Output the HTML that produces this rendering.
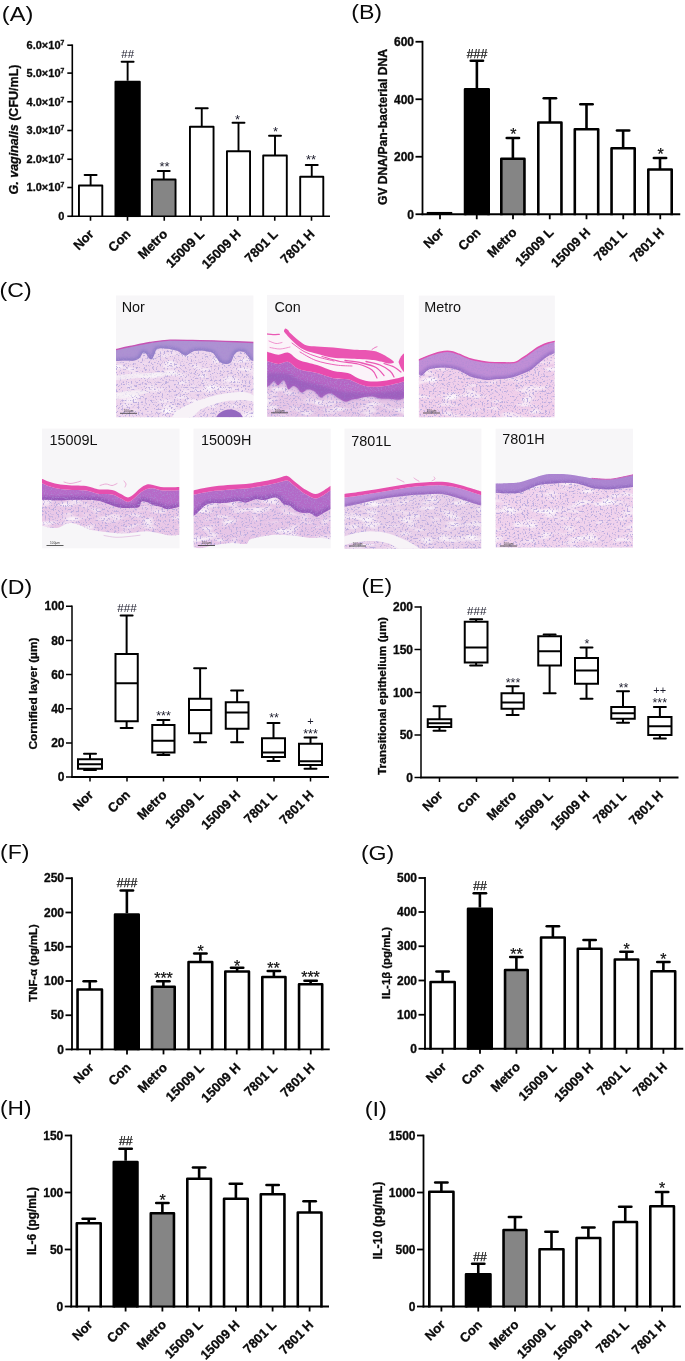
<!DOCTYPE html>
<html lang="en"><head><meta charset="utf-8"><title>Figure</title>
<style>
html,body{margin:0;padding:0;background:#fff}
svg{display:block}
text{font-family:"Liberation Sans",Arial,sans-serif}
</style></head><body>
<svg width="685" height="1361" viewBox="0 0 685 1361">
<rect x="0" y="0" width="685" height="1361" fill="#fff"/>
<text x="1.8" y="20.7" font-size="20.5" font-weight="normal" text-anchor="start" fill="#0a0a0a" textLength="31.5" lengthAdjust="spacingAndGlyphs">(A)</text>
<text x="351.2" y="18.9" font-size="20.5" font-weight="normal" text-anchor="start" fill="#0a0a0a" textLength="30.9" lengthAdjust="spacingAndGlyphs">(B)</text>
<text x="-0.4" y="296.8" font-size="20.5" font-weight="normal" text-anchor="start" fill="#0a0a0a" textLength="32" lengthAdjust="spacingAndGlyphs">(C)</text>
<text x="0" y="593.7" font-size="20.5" font-weight="normal" text-anchor="start" fill="#0a0a0a" textLength="32.1" lengthAdjust="spacingAndGlyphs">(D)</text>
<text x="361.4" y="593.3" font-size="20.5" font-weight="normal" text-anchor="start" fill="#0a0a0a" textLength="30.7" lengthAdjust="spacingAndGlyphs">(E)</text>
<text x="0" y="859.4" font-size="20.5" font-weight="normal" text-anchor="start" fill="#0a0a0a" textLength="29.4" lengthAdjust="spacingAndGlyphs">(F)</text>
<text x="360.9" y="859.6" font-size="20.5" font-weight="normal" text-anchor="start" fill="#0a0a0a" textLength="33.4" lengthAdjust="spacingAndGlyphs">(G)</text>
<text x="0" y="1114.9" font-size="20.5" font-weight="normal" text-anchor="start" fill="#0a0a0a" textLength="31.5" lengthAdjust="spacingAndGlyphs">(H)</text>
<text x="364.7" y="1116.3" font-size="20.5" font-weight="normal" text-anchor="start" fill="#0a0a0a" textLength="22.3" lengthAdjust="spacingAndGlyphs">(I)</text>
<line x1="90.62" y1="175" x2="90.62" y2="185.5" stroke="#000" stroke-width="1.9" stroke-linecap="butt"/>
<line x1="84.62" y1="175" x2="96.62" y2="175" stroke="#000" stroke-width="1.9" stroke-linecap="round"/>
<rect x="78.95" y="185.5" width="23.35" height="31.55" fill="#fff"/>
<path d="M78.95,217.05V185.5H102.3V217.05" fill="none" stroke="#000" stroke-width="1.9" stroke-linejoin="round"/>
<line x1="127.62" y1="61.75" x2="127.62" y2="80.75" stroke="#000" stroke-width="1.9" stroke-linecap="butt"/>
<line x1="121.62" y1="61.75" x2="133.62" y2="61.75" stroke="#000" stroke-width="1.9" stroke-linecap="round"/>
<rect x="115.45" y="81.7" width="24.35" height="135.35" fill="#000"/>
<path d="M115.45,217.05V81.7H139.8V217.05" fill="none" stroke="#000" stroke-width="1.9" stroke-linejoin="round"/>
<line x1="163.75" y1="171" x2="163.75" y2="179.5" stroke="#000" stroke-width="1.9" stroke-linecap="butt"/>
<line x1="157.75" y1="171" x2="169.75" y2="171" stroke="#000" stroke-width="1.9" stroke-linecap="round"/>
<rect x="151.95" y="179.5" width="23.6" height="37.55" fill="#858585"/>
<path d="M151.95,217.05V179.5H175.55V217.05" fill="none" stroke="#000" stroke-width="1.9" stroke-linejoin="round"/>
<line x1="201.75" y1="108.25" x2="201.75" y2="126.75" stroke="#000" stroke-width="1.9" stroke-linecap="butt"/>
<line x1="195.75" y1="108.25" x2="207.75" y2="108.25" stroke="#000" stroke-width="1.9" stroke-linecap="round"/>
<rect x="189.95" y="126.75" width="23.6" height="90.3" fill="#fff"/>
<path d="M189.95,217.05V126.75H213.55V217.05" fill="none" stroke="#000" stroke-width="1.9" stroke-linejoin="round"/>
<line x1="238.5" y1="122.75" x2="238.5" y2="151.25" stroke="#000" stroke-width="1.9" stroke-linecap="butt"/>
<line x1="232.5" y1="122.75" x2="244.5" y2="122.75" stroke="#000" stroke-width="1.9" stroke-linecap="round"/>
<rect x="226.95" y="151.25" width="23.1" height="65.8" fill="#fff"/>
<path d="M226.95,217.05V151.25H250.05V217.05" fill="none" stroke="#000" stroke-width="1.9" stroke-linejoin="round"/>
<line x1="275" y1="135.75" x2="275" y2="155.5" stroke="#000" stroke-width="1.9" stroke-linecap="butt"/>
<line x1="269" y1="135.75" x2="281" y2="135.75" stroke="#000" stroke-width="1.9" stroke-linecap="round"/>
<rect x="263.2" y="155.5" width="23.6" height="61.55" fill="#fff"/>
<path d="M263.2,217.05V155.5H286.8V217.05" fill="none" stroke="#000" stroke-width="1.9" stroke-linejoin="round"/>
<line x1="311.75" y1="165" x2="311.75" y2="176.75" stroke="#000" stroke-width="1.9" stroke-linecap="butt"/>
<line x1="305.75" y1="165" x2="317.75" y2="165" stroke="#000" stroke-width="1.9" stroke-linecap="round"/>
<rect x="300.2" y="176.75" width="23.1" height="40.3" fill="#fff"/>
<path d="M300.2,217.05V176.75H323.3V217.05" fill="none" stroke="#000" stroke-width="1.9" stroke-linejoin="round"/>
<line x1="72.3" y1="44.4" x2="72.3" y2="217.05" stroke="#000" stroke-width="1.6" stroke-linecap="butt"/>
<line x1="71.5" y1="216.25" x2="330" y2="216.25" stroke="#000" stroke-width="1.6" stroke-linecap="butt"/>
<line x1="67.3" y1="216.25" x2="72.3" y2="216.25" stroke="#000" stroke-width="1.6" stroke-linecap="butt"/>
<text x="64.3" y="220.1" font-size="11" font-weight="bold" text-anchor="end" fill="#0a0a0a"  stroke="#0a0a0a" stroke-width="0.3">0</text>
<line x1="67.3" y1="187.5" x2="72.3" y2="187.5" stroke="#000" stroke-width="1.6" stroke-linecap="butt"/>
<text x="64.3" y="191.35" font-size="11" font-weight="bold" text-anchor="end" fill="#0a0a0a"  stroke="#0a0a0a" stroke-width="0.3">1.0×10<tspan dy="-3.96" font-size="6.82">7</tspan></text>
<line x1="67.3" y1="159.25" x2="72.3" y2="159.25" stroke="#000" stroke-width="1.6" stroke-linecap="butt"/>
<text x="64.3" y="163.1" font-size="11" font-weight="bold" text-anchor="end" fill="#0a0a0a"  stroke="#0a0a0a" stroke-width="0.3">2.0×10<tspan dy="-3.96" font-size="6.82">7</tspan></text>
<line x1="67.3" y1="130.5" x2="72.3" y2="130.5" stroke="#000" stroke-width="1.6" stroke-linecap="butt"/>
<text x="64.3" y="134.35" font-size="11" font-weight="bold" text-anchor="end" fill="#0a0a0a"  stroke="#0a0a0a" stroke-width="0.3">3.0×10<tspan dy="-3.96" font-size="6.82">7</tspan></text>
<line x1="67.3" y1="101.75" x2="72.3" y2="101.75" stroke="#000" stroke-width="1.6" stroke-linecap="butt"/>
<text x="64.3" y="105.6" font-size="11" font-weight="bold" text-anchor="end" fill="#0a0a0a"  stroke="#0a0a0a" stroke-width="0.3">4.0×10<tspan dy="-3.96" font-size="6.82">7</tspan></text>
<line x1="67.3" y1="73.1" x2="72.3" y2="73.1" stroke="#000" stroke-width="1.6" stroke-linecap="butt"/>
<text x="64.3" y="76.95" font-size="11" font-weight="bold" text-anchor="end" fill="#0a0a0a"  stroke="#0a0a0a" stroke-width="0.3">5.0×10<tspan dy="-3.96" font-size="6.82">7</tspan></text>
<line x1="67.3" y1="45.2" x2="72.3" y2="45.2" stroke="#000" stroke-width="1.6" stroke-linecap="butt"/>
<text x="64.3" y="49.05" font-size="11" font-weight="bold" text-anchor="end" fill="#0a0a0a"  stroke="#0a0a0a" stroke-width="0.3">6.0×10<tspan dy="-3.96" font-size="6.82">7</tspan></text>
<line x1="90.5" y1="216.25" x2="90.5" y2="220.75" stroke="#000" stroke-width="1.6" stroke-linecap="butt"/>
<text x="94.5" y="234.85" font-size="13" font-weight="bold" text-anchor="end" fill="#0a0a0a" transform="rotate(-45 94.5 234.85)" stroke="#0a0a0a" stroke-width="0.3">Nor</text>
<line x1="127.5" y1="216.25" x2="127.5" y2="220.75" stroke="#000" stroke-width="1.6" stroke-linecap="butt"/>
<text x="131.5" y="234.85" font-size="13" font-weight="bold" text-anchor="end" fill="#0a0a0a" transform="rotate(-45 131.5 234.85)" stroke="#0a0a0a" stroke-width="0.3">Con</text>
<line x1="164.25" y1="216.25" x2="164.25" y2="220.75" stroke="#000" stroke-width="1.6" stroke-linecap="butt"/>
<text x="168.25" y="234.85" font-size="13" font-weight="bold" text-anchor="end" fill="#0a0a0a" transform="rotate(-45 168.25 234.85)" stroke="#0a0a0a" stroke-width="0.3">Metro</text>
<line x1="201" y1="216.25" x2="201" y2="220.75" stroke="#000" stroke-width="1.6" stroke-linecap="butt"/>
<text x="205" y="234.85" font-size="13" font-weight="bold" text-anchor="end" fill="#0a0a0a" transform="rotate(-45 205 234.85)" stroke="#0a0a0a" stroke-width="0.3">15009 L</text>
<line x1="237.75" y1="216.25" x2="237.75" y2="220.75" stroke="#000" stroke-width="1.6" stroke-linecap="butt"/>
<text x="241.75" y="234.85" font-size="13" font-weight="bold" text-anchor="end" fill="#0a0a0a" transform="rotate(-45 241.75 234.85)" stroke="#0a0a0a" stroke-width="0.3">15009 H</text>
<line x1="274.75" y1="216.25" x2="274.75" y2="220.75" stroke="#000" stroke-width="1.6" stroke-linecap="butt"/>
<text x="278.75" y="234.85" font-size="13" font-weight="bold" text-anchor="end" fill="#0a0a0a" transform="rotate(-45 278.75 234.85)" stroke="#0a0a0a" stroke-width="0.3">7801 L</text>
<line x1="311.5" y1="216.25" x2="311.5" y2="220.75" stroke="#000" stroke-width="1.6" stroke-linecap="butt"/>
<text x="315.5" y="234.85" font-size="13" font-weight="bold" text-anchor="end" fill="#0a0a0a" transform="rotate(-45 315.5 234.85)" stroke="#0a0a0a" stroke-width="0.3">7801 H</text>
<text x="17.8" y="129.5" font-size="12.5" font-weight="bold" text-anchor="middle" fill="#0a0a0a" transform="rotate(-90 17.8 129.5)" textLength="130" lengthAdjust="spacingAndGlyphs" stroke="#0a0a0a" stroke-width="0.3"><tspan font-style="italic">G. vaginalis</tspan> (CFU/mL)</text>
<text x="127.75" y="57.97" font-size="11.5" font-weight="normal" text-anchor="middle" fill="#1b1b2b" >##</text>
<text x="164.5" y="171.26" font-size="13" font-weight="normal" text-anchor="middle" fill="#1b1b2b" >**</text>
<text x="237.5" y="123.51" font-size="13" font-weight="normal" text-anchor="middle" fill="#1b1b2b" >*</text>
<text x="275.5" y="135.51" font-size="13" font-weight="normal" text-anchor="middle" fill="#1b1b2b" >*</text>
<text x="311" y="163.76" font-size="13" font-weight="normal" text-anchor="middle" fill="#1b1b2b" >**</text>
<line x1="426.75" y1="213.1" x2="452.25" y2="213.1" stroke="#000" stroke-width="2.3" stroke-linecap="butt"/>
<line x1="476.88" y1="60.75" x2="476.88" y2="88" stroke="#000" stroke-width="2.6" stroke-linecap="butt"/>
<line x1="470.73" y1="60.75" x2="483.02" y2="60.75" stroke="#000" stroke-width="2.6" stroke-linecap="round"/>
<rect x="465.05" y="89.3" width="23.65" height="125.85" fill="#000"/>
<path d="M465.05,215.15V89.3H488.7V215.15" fill="none" stroke="#000" stroke-width="2.6" stroke-linejoin="round"/>
<line x1="512.88" y1="138" x2="512.88" y2="158.75" stroke="#000" stroke-width="2.6" stroke-linecap="butt"/>
<line x1="506.73" y1="138" x2="519.02" y2="138" stroke="#000" stroke-width="2.6" stroke-linecap="round"/>
<rect x="501.3" y="158.75" width="23.15" height="56.4" fill="#858585"/>
<path d="M501.3,215.15V158.75H524.45V215.15" fill="none" stroke="#000" stroke-width="2.6" stroke-linejoin="round"/>
<line x1="549.88" y1="98.25" x2="549.88" y2="122.5" stroke="#000" stroke-width="2.6" stroke-linecap="butt"/>
<line x1="543.73" y1="98.25" x2="556.02" y2="98.25" stroke="#000" stroke-width="2.6" stroke-linecap="round"/>
<rect x="538.3" y="122.5" width="23.15" height="92.65" fill="#fff"/>
<path d="M538.3,215.15V122.5H561.45V215.15" fill="none" stroke="#000" stroke-width="2.6" stroke-linejoin="round"/>
<line x1="586.5" y1="104.25" x2="586.5" y2="129.25" stroke="#000" stroke-width="2.6" stroke-linecap="butt"/>
<line x1="580.35" y1="104.25" x2="592.65" y2="104.25" stroke="#000" stroke-width="2.6" stroke-linecap="round"/>
<rect x="574.8" y="129.25" width="23.4" height="85.9" fill="#fff"/>
<path d="M574.8,215.15V129.25H598.2V215.15" fill="none" stroke="#000" stroke-width="2.6" stroke-linejoin="round"/>
<line x1="623.12" y1="130.5" x2="623.12" y2="148.25" stroke="#000" stroke-width="2.6" stroke-linecap="butt"/>
<line x1="616.98" y1="130.5" x2="629.27" y2="130.5" stroke="#000" stroke-width="2.6" stroke-linecap="round"/>
<rect x="611.55" y="148.25" width="23.15" height="66.9" fill="#fff"/>
<path d="M611.55,215.15V148.25H634.7V215.15" fill="none" stroke="#000" stroke-width="2.6" stroke-linejoin="round"/>
<line x1="660" y1="158" x2="660" y2="169.5" stroke="#000" stroke-width="2.6" stroke-linecap="butt"/>
<line x1="653.85" y1="158" x2="666.15" y2="158" stroke="#000" stroke-width="2.6" stroke-linecap="round"/>
<rect x="648.3" y="169.5" width="23.4" height="45.65" fill="#fff"/>
<path d="M648.3,215.15V169.5H671.7V215.15" fill="none" stroke="#000" stroke-width="2.6" stroke-linejoin="round"/>
<line x1="422.5" y1="40.85" x2="422.5" y2="215.15" stroke="#000" stroke-width="1.8" stroke-linecap="butt"/>
<line x1="421.6" y1="214.25" x2="680.25" y2="214.25" stroke="#000" stroke-width="1.8" stroke-linecap="butt"/>
<line x1="415.5" y1="214.25" x2="422.5" y2="214.25" stroke="#000" stroke-width="1.8" stroke-linecap="butt"/>
<text x="414" y="218.85" font-size="12" font-weight="bold" text-anchor="end" fill="#0a0a0a"  stroke="#0a0a0a" stroke-width="0.3">0</text>
<line x1="415.5" y1="156.75" x2="422.5" y2="156.75" stroke="#000" stroke-width="1.8" stroke-linecap="butt"/>
<text x="414" y="161.35" font-size="12" font-weight="bold" text-anchor="end" fill="#0a0a0a"  stroke="#0a0a0a" stroke-width="0.3">200</text>
<line x1="415.5" y1="99.25" x2="422.5" y2="99.25" stroke="#000" stroke-width="1.8" stroke-linecap="butt"/>
<text x="414" y="103.85" font-size="12" font-weight="bold" text-anchor="end" fill="#0a0a0a"  stroke="#0a0a0a" stroke-width="0.3">400</text>
<line x1="415.5" y1="41.75" x2="422.5" y2="41.75" stroke="#000" stroke-width="1.8" stroke-linecap="butt"/>
<text x="414" y="46.35" font-size="12" font-weight="bold" text-anchor="end" fill="#0a0a0a"  stroke="#0a0a0a" stroke-width="0.3">600</text>
<line x1="440" y1="214.25" x2="440" y2="219.25" stroke="#000" stroke-width="1.8" stroke-linecap="butt"/>
<text x="444.6" y="233.25" font-size="13" font-weight="bold" text-anchor="end" fill="#0a0a0a" transform="rotate(-45 444.6 233.25)" stroke="#0a0a0a" stroke-width="0.3">Nor</text>
<line x1="476.75" y1="214.25" x2="476.75" y2="219.25" stroke="#000" stroke-width="1.8" stroke-linecap="butt"/>
<text x="481.35" y="233.25" font-size="13" font-weight="bold" text-anchor="end" fill="#0a0a0a" transform="rotate(-45 481.35 233.25)" stroke="#0a0a0a" stroke-width="0.3">Con</text>
<line x1="513" y1="214.25" x2="513" y2="219.25" stroke="#000" stroke-width="1.8" stroke-linecap="butt"/>
<text x="517.6" y="233.25" font-size="13" font-weight="bold" text-anchor="end" fill="#0a0a0a" transform="rotate(-45 517.6 233.25)" stroke="#0a0a0a" stroke-width="0.3">Metro</text>
<line x1="549.75" y1="214.25" x2="549.75" y2="219.25" stroke="#000" stroke-width="1.8" stroke-linecap="butt"/>
<text x="554.35" y="233.25" font-size="13" font-weight="bold" text-anchor="end" fill="#0a0a0a" transform="rotate(-45 554.35 233.25)" stroke="#0a0a0a" stroke-width="0.3">15009 L</text>
<line x1="586.5" y1="214.25" x2="586.5" y2="219.25" stroke="#000" stroke-width="1.8" stroke-linecap="butt"/>
<text x="591.1" y="233.25" font-size="13" font-weight="bold" text-anchor="end" fill="#0a0a0a" transform="rotate(-45 591.1 233.25)" stroke="#0a0a0a" stroke-width="0.3">15009 H</text>
<line x1="623.25" y1="214.25" x2="623.25" y2="219.25" stroke="#000" stroke-width="1.8" stroke-linecap="butt"/>
<text x="627.85" y="233.25" font-size="13" font-weight="bold" text-anchor="end" fill="#0a0a0a" transform="rotate(-45 627.85 233.25)" stroke="#0a0a0a" stroke-width="0.3">7801 L</text>
<line x1="660.25" y1="214.25" x2="660.25" y2="219.25" stroke="#000" stroke-width="1.8" stroke-linecap="butt"/>
<text x="664.85" y="233.25" font-size="13" font-weight="bold" text-anchor="end" fill="#0a0a0a" transform="rotate(-45 664.85 233.25)" stroke="#0a0a0a" stroke-width="0.3">7801 H</text>
<text x="387" y="127" font-size="12" font-weight="bold" text-anchor="middle" fill="#0a0a0a" transform="rotate(-90 387 127)" textLength="156" lengthAdjust="spacingAndGlyphs" stroke="#0a0a0a" stroke-width="0.3">GV DNA/Pan-bacterial DNA</text>
<text x="477" y="57.66" font-size="13.5" font-weight="normal" text-anchor="middle" fill="#111" textLength="20.5" lengthAdjust="spacingAndGlyphs" stroke="#111" stroke-width="0.25">###</text>
<text x="513.3" y="139.82" font-size="16" font-weight="normal" text-anchor="middle" fill="#111"  stroke="#111" stroke-width="0.25">*</text>
<text x="660.5" y="159.82" font-size="16" font-weight="normal" text-anchor="middle" fill="#111"  stroke="#111" stroke-width="0.25">*</text>
<line x1="90" y1="753.75" x2="90" y2="759.25" stroke="#000" stroke-width="2.0" stroke-linecap="butt"/>
<line x1="90" y1="768.75" x2="90" y2="770" stroke="#000" stroke-width="2.0" stroke-linecap="butt"/>
<line x1="84" y1="753.75" x2="96" y2="753.75" stroke="#000" stroke-width="2.0" stroke-linecap="round"/>
<line x1="84" y1="770" x2="96" y2="770" stroke="#000" stroke-width="2.0" stroke-linecap="round"/>
<rect x="78" y="759.25" width="24" height="9.5" fill="#fff" stroke="#000" stroke-width="2.0"/>
<line x1="78" y1="764.25" x2="102" y2="764.25" stroke="#000" stroke-width="2.0" stroke-linecap="butt"/>
<line x1="126.62" y1="615.5" x2="126.62" y2="654" stroke="#000" stroke-width="2.0" stroke-linecap="butt"/>
<line x1="126.62" y1="721.25" x2="126.62" y2="728" stroke="#000" stroke-width="2.0" stroke-linecap="butt"/>
<line x1="120.62" y1="615.5" x2="132.62" y2="615.5" stroke="#000" stroke-width="2.0" stroke-linecap="round"/>
<line x1="120.62" y1="728" x2="132.62" y2="728" stroke="#000" stroke-width="2.0" stroke-linecap="round"/>
<rect x="115.5" y="654" width="22.25" height="67.25" fill="#fff" stroke="#000" stroke-width="2.0"/>
<line x1="115.5" y1="683.25" x2="137.75" y2="683.25" stroke="#000" stroke-width="2.0" stroke-linecap="butt"/>
<line x1="163.38" y1="720" x2="163.38" y2="725" stroke="#000" stroke-width="2.0" stroke-linecap="butt"/>
<line x1="163.38" y1="752.5" x2="163.38" y2="755" stroke="#000" stroke-width="2.0" stroke-linecap="butt"/>
<line x1="157.38" y1="720" x2="169.38" y2="720" stroke="#000" stroke-width="2.0" stroke-linecap="round"/>
<line x1="157.38" y1="755" x2="169.38" y2="755" stroke="#000" stroke-width="2.0" stroke-linecap="round"/>
<rect x="152.25" y="725" width="22.25" height="27.5" fill="#fff" stroke="#000" stroke-width="2.0"/>
<line x1="152.25" y1="740.75" x2="174.5" y2="740.75" stroke="#000" stroke-width="2.0" stroke-linecap="butt"/>
<line x1="200.12" y1="668.25" x2="200.12" y2="698.75" stroke="#000" stroke-width="2.0" stroke-linecap="butt"/>
<line x1="200.12" y1="733.25" x2="200.12" y2="742.25" stroke="#000" stroke-width="2.0" stroke-linecap="butt"/>
<line x1="194.12" y1="668.25" x2="206.12" y2="668.25" stroke="#000" stroke-width="2.0" stroke-linecap="round"/>
<line x1="194.12" y1="742.25" x2="206.12" y2="742.25" stroke="#000" stroke-width="2.0" stroke-linecap="round"/>
<rect x="189" y="698.75" width="22.25" height="34.5" fill="#fff" stroke="#000" stroke-width="2.0"/>
<line x1="189" y1="710" x2="211.25" y2="710" stroke="#000" stroke-width="2.0" stroke-linecap="butt"/>
<line x1="237.12" y1="690.5" x2="237.12" y2="702.25" stroke="#000" stroke-width="2.0" stroke-linecap="butt"/>
<line x1="237.12" y1="728.75" x2="237.12" y2="742.25" stroke="#000" stroke-width="2.0" stroke-linecap="butt"/>
<line x1="231.12" y1="690.5" x2="243.12" y2="690.5" stroke="#000" stroke-width="2.0" stroke-linecap="round"/>
<line x1="231.12" y1="742.25" x2="243.12" y2="742.25" stroke="#000" stroke-width="2.0" stroke-linecap="round"/>
<rect x="225.75" y="702.25" width="22.75" height="26.5" fill="#fff" stroke="#000" stroke-width="2.0"/>
<line x1="225.75" y1="712.5" x2="248.5" y2="712.5" stroke="#000" stroke-width="2.0" stroke-linecap="butt"/>
<line x1="273.5" y1="723" x2="273.5" y2="738.25" stroke="#000" stroke-width="2.0" stroke-linecap="butt"/>
<line x1="273.5" y1="757" x2="273.5" y2="761" stroke="#000" stroke-width="2.0" stroke-linecap="butt"/>
<line x1="267.5" y1="723" x2="279.5" y2="723" stroke="#000" stroke-width="2.0" stroke-linecap="round"/>
<line x1="267.5" y1="761" x2="279.5" y2="761" stroke="#000" stroke-width="2.0" stroke-linecap="round"/>
<rect x="262" y="738.25" width="23" height="18.75" fill="#fff" stroke="#000" stroke-width="2.0"/>
<line x1="262" y1="752.5" x2="285" y2="752.5" stroke="#000" stroke-width="2.0" stroke-linecap="butt"/>
<line x1="310.5" y1="737.5" x2="310.5" y2="743.75" stroke="#000" stroke-width="2.0" stroke-linecap="butt"/>
<line x1="310.5" y1="765" x2="310.5" y2="768.75" stroke="#000" stroke-width="2.0" stroke-linecap="butt"/>
<line x1="304.5" y1="737.5" x2="316.5" y2="737.5" stroke="#000" stroke-width="2.0" stroke-linecap="round"/>
<line x1="304.5" y1="768.75" x2="316.5" y2="768.75" stroke="#000" stroke-width="2.0" stroke-linecap="round"/>
<rect x="299" y="743.75" width="23" height="21.25" fill="#fff" stroke="#000" stroke-width="2.0"/>
<line x1="299" y1="761.25" x2="322" y2="761.25" stroke="#000" stroke-width="2.0" stroke-linecap="butt"/>
<line x1="72" y1="605.5" x2="72" y2="777.75" stroke="#000" stroke-width="1.5" stroke-linecap="butt"/>
<line x1="71.25" y1="777" x2="329" y2="777" stroke="#000" stroke-width="1.9" stroke-linecap="butt"/>
<line x1="66" y1="777" x2="72" y2="777" stroke="#000" stroke-width="1.5" stroke-linecap="butt"/>
<text x="64.5" y="781.2" font-size="12" font-weight="bold" text-anchor="end" fill="#0a0a0a"  stroke="#0a0a0a" stroke-width="0.3">0</text>
<line x1="66" y1="743" x2="72" y2="743" stroke="#000" stroke-width="1.5" stroke-linecap="butt"/>
<text x="64.5" y="747.2" font-size="12" font-weight="bold" text-anchor="end" fill="#0a0a0a"  stroke="#0a0a0a" stroke-width="0.3">20</text>
<line x1="66" y1="708.75" x2="72" y2="708.75" stroke="#000" stroke-width="1.5" stroke-linecap="butt"/>
<text x="64.5" y="712.95" font-size="12" font-weight="bold" text-anchor="end" fill="#0a0a0a"  stroke="#0a0a0a" stroke-width="0.3">40</text>
<line x1="66" y1="674.5" x2="72" y2="674.5" stroke="#000" stroke-width="1.5" stroke-linecap="butt"/>
<text x="64.5" y="678.7" font-size="12" font-weight="bold" text-anchor="end" fill="#0a0a0a"  stroke="#0a0a0a" stroke-width="0.3">60</text>
<line x1="66" y1="640.5" x2="72" y2="640.5" stroke="#000" stroke-width="1.5" stroke-linecap="butt"/>
<text x="64.5" y="644.7" font-size="12" font-weight="bold" text-anchor="end" fill="#0a0a0a"  stroke="#0a0a0a" stroke-width="0.3">80</text>
<line x1="66" y1="606.25" x2="72" y2="606.25" stroke="#000" stroke-width="1.5" stroke-linecap="butt"/>
<text x="64.5" y="610.45" font-size="12" font-weight="bold" text-anchor="end" fill="#0a0a0a"  stroke="#0a0a0a" stroke-width="0.3">100</text>
<line x1="90" y1="777" x2="90" y2="781.5" stroke="#000" stroke-width="1.5" stroke-linecap="butt"/>
<text x="94" y="795.6" font-size="13" font-weight="bold" text-anchor="end" fill="#0a0a0a" transform="rotate(-45 94 795.6)" stroke="#0a0a0a" stroke-width="0.3">Nor</text>
<line x1="127" y1="777" x2="127" y2="781.5" stroke="#000" stroke-width="1.5" stroke-linecap="butt"/>
<text x="131" y="795.6" font-size="13" font-weight="bold" text-anchor="end" fill="#0a0a0a" transform="rotate(-45 131 795.6)" stroke="#0a0a0a" stroke-width="0.3">Con</text>
<line x1="163.5" y1="777" x2="163.5" y2="781.5" stroke="#000" stroke-width="1.5" stroke-linecap="butt"/>
<text x="167.5" y="795.6" font-size="13" font-weight="bold" text-anchor="end" fill="#0a0a0a" transform="rotate(-45 167.5 795.6)" stroke="#0a0a0a" stroke-width="0.3">Metro</text>
<line x1="200.25" y1="777" x2="200.25" y2="781.5" stroke="#000" stroke-width="1.5" stroke-linecap="butt"/>
<text x="204.25" y="795.6" font-size="13" font-weight="bold" text-anchor="end" fill="#0a0a0a" transform="rotate(-45 204.25 795.6)" stroke="#0a0a0a" stroke-width="0.3">15009 L</text>
<line x1="237.25" y1="777" x2="237.25" y2="781.5" stroke="#000" stroke-width="1.5" stroke-linecap="butt"/>
<text x="241.25" y="795.6" font-size="13" font-weight="bold" text-anchor="end" fill="#0a0a0a" transform="rotate(-45 241.25 795.6)" stroke="#0a0a0a" stroke-width="0.3">15009 H</text>
<line x1="274" y1="777" x2="274" y2="781.5" stroke="#000" stroke-width="1.5" stroke-linecap="butt"/>
<text x="278" y="795.6" font-size="13" font-weight="bold" text-anchor="end" fill="#0a0a0a" transform="rotate(-45 278 795.6)" stroke="#0a0a0a" stroke-width="0.3">7801 L</text>
<line x1="310.5" y1="777" x2="310.5" y2="781.5" stroke="#000" stroke-width="1.5" stroke-linecap="butt"/>
<text x="314.5" y="795.6" font-size="13" font-weight="bold" text-anchor="end" fill="#0a0a0a" transform="rotate(-45 314.5 795.6)" stroke="#0a0a0a" stroke-width="0.3">7801 H</text>
<text x="37" y="693.5" font-size="11" font-weight="bold" text-anchor="middle" fill="#0a0a0a" transform="rotate(-90 37 693.5)" textLength="112" lengthAdjust="spacingAndGlyphs" stroke="#0a0a0a" stroke-width="0.3">Cornified layer (µm)</text>
<text x="127" y="611.79" font-size="11" font-weight="normal" text-anchor="middle" fill="#1b1b2b" textLength="19.5" lengthAdjust="spacingAndGlyphs">###</text>
<text x="163.5" y="720.25" font-size="12.5" font-weight="normal" text-anchor="middle" fill="#1b1b2b" >***</text>
<text x="274" y="722.25" font-size="12.5" font-weight="normal" text-anchor="middle" fill="#1b1b2b" >**</text>
<text x="310.5" y="725.49" font-size="11" font-weight="normal" text-anchor="middle" fill="#1b1b2b" >+</text>
<text x="310.5" y="737.75" font-size="12.5" font-weight="normal" text-anchor="middle" fill="#1b1b2b" >***</text>
<line x1="439.5" y1="706.25" x2="439.5" y2="719.25" stroke="#000" stroke-width="2.0" stroke-linecap="butt"/>
<line x1="439.5" y1="727" x2="439.5" y2="730.75" stroke="#000" stroke-width="2.0" stroke-linecap="butt"/>
<line x1="433.5" y1="706.25" x2="445.5" y2="706.25" stroke="#000" stroke-width="2.0" stroke-linecap="round"/>
<line x1="433.5" y1="730.75" x2="445.5" y2="730.75" stroke="#000" stroke-width="2.0" stroke-linecap="round"/>
<rect x="427.75" y="719.25" width="23.5" height="7.75" fill="#fff" stroke="#000" stroke-width="2.0"/>
<line x1="427.75" y1="723.25" x2="451.25" y2="723.25" stroke="#000" stroke-width="2.0" stroke-linecap="butt"/>
<line x1="476.12" y1="619.25" x2="476.12" y2="621.75" stroke="#000" stroke-width="2.0" stroke-linecap="butt"/>
<line x1="476.12" y1="662.5" x2="476.12" y2="665.5" stroke="#000" stroke-width="2.0" stroke-linecap="butt"/>
<line x1="470.12" y1="619.25" x2="482.12" y2="619.25" stroke="#000" stroke-width="2.0" stroke-linecap="round"/>
<line x1="470.12" y1="665.5" x2="482.12" y2="665.5" stroke="#000" stroke-width="2.0" stroke-linecap="round"/>
<rect x="464.75" y="621.75" width="22.75" height="40.75" fill="#fff" stroke="#000" stroke-width="2.0"/>
<line x1="464.75" y1="647.5" x2="487.5" y2="647.5" stroke="#000" stroke-width="2.0" stroke-linecap="butt"/>
<line x1="512.62" y1="686.25" x2="512.62" y2="693.25" stroke="#000" stroke-width="2.0" stroke-linecap="butt"/>
<line x1="512.62" y1="708.75" x2="512.62" y2="715" stroke="#000" stroke-width="2.0" stroke-linecap="butt"/>
<line x1="506.62" y1="686.25" x2="518.62" y2="686.25" stroke="#000" stroke-width="2.0" stroke-linecap="round"/>
<line x1="506.62" y1="715" x2="518.62" y2="715" stroke="#000" stroke-width="2.0" stroke-linecap="round"/>
<rect x="501.5" y="693.25" width="22.25" height="15.5" fill="#fff" stroke="#000" stroke-width="2.0"/>
<line x1="501.5" y1="702.5" x2="523.75" y2="702.5" stroke="#000" stroke-width="2.0" stroke-linecap="butt"/>
<line x1="549.62" y1="634.5" x2="549.62" y2="636.25" stroke="#000" stroke-width="2.0" stroke-linecap="butt"/>
<line x1="549.62" y1="665.5" x2="549.62" y2="693.25" stroke="#000" stroke-width="2.0" stroke-linecap="butt"/>
<line x1="543.62" y1="634.5" x2="555.62" y2="634.5" stroke="#000" stroke-width="2.0" stroke-linecap="round"/>
<line x1="543.62" y1="693.25" x2="555.62" y2="693.25" stroke="#000" stroke-width="2.0" stroke-linecap="round"/>
<rect x="538.25" y="636.25" width="22.75" height="29.25" fill="#fff" stroke="#000" stroke-width="2.0"/>
<line x1="538.25" y1="651.25" x2="561" y2="651.25" stroke="#000" stroke-width="2.0" stroke-linecap="butt"/>
<line x1="586.5" y1="647.5" x2="586.5" y2="658" stroke="#000" stroke-width="2.0" stroke-linecap="butt"/>
<line x1="586.5" y1="683.75" x2="586.5" y2="698.75" stroke="#000" stroke-width="2.0" stroke-linecap="butt"/>
<line x1="580.5" y1="647.5" x2="592.5" y2="647.5" stroke="#000" stroke-width="2.0" stroke-linecap="round"/>
<line x1="580.5" y1="698.75" x2="592.5" y2="698.75" stroke="#000" stroke-width="2.0" stroke-linecap="round"/>
<rect x="575" y="658" width="23" height="25.75" fill="#fff" stroke="#000" stroke-width="2.0"/>
<line x1="575" y1="670.5" x2="598" y2="670.5" stroke="#000" stroke-width="2.0" stroke-linecap="butt"/>
<line x1="623" y1="691.25" x2="623" y2="707" stroke="#000" stroke-width="2.0" stroke-linecap="butt"/>
<line x1="623" y1="718.75" x2="623" y2="722.75" stroke="#000" stroke-width="2.0" stroke-linecap="butt"/>
<line x1="617" y1="691.25" x2="629" y2="691.25" stroke="#000" stroke-width="2.0" stroke-linecap="round"/>
<line x1="617" y1="722.75" x2="629" y2="722.75" stroke="#000" stroke-width="2.0" stroke-linecap="round"/>
<rect x="611.25" y="707" width="23.5" height="11.75" fill="#fff" stroke="#000" stroke-width="2.0"/>
<line x1="611.25" y1="713.25" x2="634.75" y2="713.25" stroke="#000" stroke-width="2.0" stroke-linecap="butt"/>
<line x1="659.88" y1="707" x2="659.88" y2="717" stroke="#000" stroke-width="2.0" stroke-linecap="butt"/>
<line x1="659.88" y1="735" x2="659.88" y2="738.5" stroke="#000" stroke-width="2.0" stroke-linecap="butt"/>
<line x1="653.88" y1="707" x2="665.88" y2="707" stroke="#000" stroke-width="2.0" stroke-linecap="round"/>
<line x1="653.88" y1="738.5" x2="665.88" y2="738.5" stroke="#000" stroke-width="2.0" stroke-linecap="round"/>
<rect x="648.25" y="717" width="23.25" height="18" fill="#fff" stroke="#000" stroke-width="2.0"/>
<line x1="648.25" y1="726.25" x2="671.5" y2="726.25" stroke="#000" stroke-width="2.0" stroke-linecap="butt"/>
<line x1="421" y1="606.25" x2="421" y2="778.25" stroke="#000" stroke-width="1.5" stroke-linecap="butt"/>
<line x1="420.25" y1="777.5" x2="678.5" y2="777.5" stroke="#000" stroke-width="1.9" stroke-linecap="butt"/>
<line x1="414.5" y1="777.5" x2="421" y2="777.5" stroke="#000" stroke-width="1.5" stroke-linecap="butt"/>
<text x="413" y="781.7" font-size="12" font-weight="bold" text-anchor="end" fill="#0a0a0a"  stroke="#0a0a0a" stroke-width="0.3">0</text>
<line x1="414.5" y1="735" x2="421" y2="735" stroke="#000" stroke-width="1.5" stroke-linecap="butt"/>
<text x="413" y="739.2" font-size="12" font-weight="bold" text-anchor="end" fill="#0a0a0a"  stroke="#0a0a0a" stroke-width="0.3">50</text>
<line x1="414.5" y1="692.5" x2="421" y2="692.5" stroke="#000" stroke-width="1.5" stroke-linecap="butt"/>
<text x="413" y="696.7" font-size="12" font-weight="bold" text-anchor="end" fill="#0a0a0a"  stroke="#0a0a0a" stroke-width="0.3">100</text>
<line x1="414.5" y1="649.5" x2="421" y2="649.5" stroke="#000" stroke-width="1.5" stroke-linecap="butt"/>
<text x="413" y="653.7" font-size="12" font-weight="bold" text-anchor="end" fill="#0a0a0a"  stroke="#0a0a0a" stroke-width="0.3">150</text>
<line x1="414.5" y1="607" x2="421" y2="607" stroke="#000" stroke-width="1.5" stroke-linecap="butt"/>
<text x="413" y="611.2" font-size="12" font-weight="bold" text-anchor="end" fill="#0a0a0a"  stroke="#0a0a0a" stroke-width="0.3">200</text>
<line x1="439.5" y1="777.5" x2="439.5" y2="782" stroke="#000" stroke-width="1.5" stroke-linecap="butt"/>
<text x="443.5" y="796.1" font-size="13" font-weight="bold" text-anchor="end" fill="#0a0a0a" transform="rotate(-45 443.5 796.1)" stroke="#0a0a0a" stroke-width="0.3">Nor</text>
<line x1="476.5" y1="777.5" x2="476.5" y2="782" stroke="#000" stroke-width="1.5" stroke-linecap="butt"/>
<text x="480.5" y="796.1" font-size="13" font-weight="bold" text-anchor="end" fill="#0a0a0a" transform="rotate(-45 480.5 796.1)" stroke="#0a0a0a" stroke-width="0.3">Con</text>
<line x1="513" y1="777.5" x2="513" y2="782" stroke="#000" stroke-width="1.5" stroke-linecap="butt"/>
<text x="517" y="796.1" font-size="13" font-weight="bold" text-anchor="end" fill="#0a0a0a" transform="rotate(-45 517 796.1)" stroke="#0a0a0a" stroke-width="0.3">Metro</text>
<line x1="549.5" y1="777.5" x2="549.5" y2="782" stroke="#000" stroke-width="1.5" stroke-linecap="butt"/>
<text x="553.5" y="796.1" font-size="13" font-weight="bold" text-anchor="end" fill="#0a0a0a" transform="rotate(-45 553.5 796.1)" stroke="#0a0a0a" stroke-width="0.3">15009 L</text>
<line x1="586.5" y1="777.5" x2="586.5" y2="782" stroke="#000" stroke-width="1.5" stroke-linecap="butt"/>
<text x="590.5" y="796.1" font-size="13" font-weight="bold" text-anchor="end" fill="#0a0a0a" transform="rotate(-45 590.5 796.1)" stroke="#0a0a0a" stroke-width="0.3">15009 H</text>
<line x1="623.25" y1="777.5" x2="623.25" y2="782" stroke="#000" stroke-width="1.5" stroke-linecap="butt"/>
<text x="627.25" y="796.1" font-size="13" font-weight="bold" text-anchor="end" fill="#0a0a0a" transform="rotate(-45 627.25 796.1)" stroke="#0a0a0a" stroke-width="0.3">7801 L</text>
<line x1="660" y1="777.5" x2="660" y2="782" stroke="#000" stroke-width="1.5" stroke-linecap="butt"/>
<text x="664" y="796.1" font-size="13" font-weight="bold" text-anchor="end" fill="#0a0a0a" transform="rotate(-45 664 796.1)" stroke="#0a0a0a" stroke-width="0.3">7801 H</text>
<text x="385.8" y="696" font-size="11" font-weight="bold" text-anchor="middle" fill="#0a0a0a" transform="rotate(-90 385.8 696)" textLength="158" lengthAdjust="spacingAndGlyphs" stroke="#0a0a0a" stroke-width="0.3">Transitional epithelium (µm)</text>
<text x="476.75" y="615.04" font-size="11" font-weight="normal" text-anchor="middle" fill="#1b1b2b" textLength="19.5" lengthAdjust="spacingAndGlyphs">###</text>
<text x="513" y="686.5" font-size="12.5" font-weight="normal" text-anchor="middle" fill="#1b1b2b" >***</text>
<text x="587" y="648.25" font-size="12.5" font-weight="normal" text-anchor="middle" fill="#1b1b2b" >*</text>
<text x="623.5" y="691.5" font-size="12.5" font-weight="normal" text-anchor="middle" fill="#1b1b2b" >**</text>
<text x="659.75" y="694.49" font-size="11" font-weight="normal" text-anchor="middle" fill="#1b1b2b" >++</text>
<text x="659.75" y="706.5" font-size="12.5" font-weight="normal" text-anchor="middle" fill="#1b1b2b" >***</text>
<line x1="89.75" y1="981.25" x2="89.75" y2="989.5" stroke="#000" stroke-width="2.6" stroke-linecap="butt"/>
<line x1="83.6" y1="981.25" x2="95.9" y2="981.25" stroke="#000" stroke-width="2.6" stroke-linecap="round"/>
<rect x="77.55" y="989.5" width="24.4" height="60.8" fill="#fff"/>
<path d="M77.55,1050.3V989.5H101.95V1050.3" fill="none" stroke="#000" stroke-width="2.6" stroke-linejoin="round"/>
<line x1="126.88" y1="890.5" x2="126.88" y2="913.25" stroke="#000" stroke-width="2.6" stroke-linecap="butt"/>
<line x1="120.72" y1="890.5" x2="133.03" y2="890.5" stroke="#000" stroke-width="2.6" stroke-linecap="round"/>
<rect x="115.05" y="914.55" width="23.65" height="135.75" fill="#000"/>
<path d="M115.05,1050.3V914.55H138.7V1050.3" fill="none" stroke="#000" stroke-width="2.6" stroke-linejoin="round"/>
<line x1="163.38" y1="981.25" x2="163.38" y2="986.75" stroke="#000" stroke-width="2.6" stroke-linecap="butt"/>
<line x1="157.22" y1="981.25" x2="169.53" y2="981.25" stroke="#000" stroke-width="2.6" stroke-linecap="round"/>
<rect x="152.05" y="986.75" width="22.65" height="63.55" fill="#858585"/>
<path d="M152.05,1050.3V986.75H174.7V1050.3" fill="none" stroke="#000" stroke-width="2.6" stroke-linejoin="round"/>
<line x1="200.38" y1="953.5" x2="200.38" y2="962" stroke="#000" stroke-width="2.6" stroke-linecap="butt"/>
<line x1="194.22" y1="953.5" x2="206.53" y2="953.5" stroke="#000" stroke-width="2.6" stroke-linecap="round"/>
<rect x="188.55" y="962" width="23.65" height="88.3" fill="#fff"/>
<path d="M188.55,1050.3V962H212.2V1050.3" fill="none" stroke="#000" stroke-width="2.6" stroke-linejoin="round"/>
<line x1="237.12" y1="967.75" x2="237.12" y2="971.5" stroke="#000" stroke-width="2.6" stroke-linecap="butt"/>
<line x1="230.97" y1="967.75" x2="243.28" y2="967.75" stroke="#000" stroke-width="2.6" stroke-linecap="round"/>
<rect x="225.3" y="971.5" width="23.65" height="78.8" fill="#fff"/>
<path d="M225.3,1050.3V971.5H248.95V1050.3" fill="none" stroke="#000" stroke-width="2.6" stroke-linejoin="round"/>
<line x1="273.88" y1="971" x2="273.88" y2="977" stroke="#000" stroke-width="2.6" stroke-linecap="butt"/>
<line x1="267.73" y1="971" x2="280.02" y2="971" stroke="#000" stroke-width="2.6" stroke-linecap="round"/>
<rect x="262.3" y="977" width="23.15" height="73.3" fill="#fff"/>
<path d="M262.3,1050.3V977H285.45V1050.3" fill="none" stroke="#000" stroke-width="2.6" stroke-linejoin="round"/>
<line x1="310.62" y1="980.75" x2="310.62" y2="984.25" stroke="#000" stroke-width="2.6" stroke-linecap="butt"/>
<line x1="304.48" y1="980.75" x2="316.77" y2="980.75" stroke="#000" stroke-width="2.6" stroke-linecap="round"/>
<rect x="299.05" y="984.25" width="23.15" height="66.05" fill="#fff"/>
<path d="M299.05,1050.3V984.25H322.2V1050.3" fill="none" stroke="#000" stroke-width="2.6" stroke-linejoin="round"/>
<line x1="72" y1="877.35" x2="72" y2="1050.3" stroke="#000" stroke-width="1.8" stroke-linecap="butt"/>
<line x1="71.1" y1="1049.4" x2="329.75" y2="1049.4" stroke="#000" stroke-width="1.8" stroke-linecap="butt"/>
<line x1="65.5" y1="1049.4" x2="72" y2="1049.4" stroke="#000" stroke-width="1.8" stroke-linecap="butt"/>
<text x="64" y="1053.6" font-size="12" font-weight="bold" text-anchor="end" fill="#0a0a0a"  stroke="#0a0a0a" stroke-width="0.3">0</text>
<line x1="65.5" y1="1015.25" x2="72" y2="1015.25" stroke="#000" stroke-width="1.8" stroke-linecap="butt"/>
<text x="64" y="1019.45" font-size="12" font-weight="bold" text-anchor="end" fill="#0a0a0a"  stroke="#0a0a0a" stroke-width="0.3">50</text>
<line x1="65.5" y1="981" x2="72" y2="981" stroke="#000" stroke-width="1.8" stroke-linecap="butt"/>
<text x="64" y="985.2" font-size="12" font-weight="bold" text-anchor="end" fill="#0a0a0a"  stroke="#0a0a0a" stroke-width="0.3">100</text>
<line x1="65.5" y1="946.75" x2="72" y2="946.75" stroke="#000" stroke-width="1.8" stroke-linecap="butt"/>
<text x="64" y="950.95" font-size="12" font-weight="bold" text-anchor="end" fill="#0a0a0a"  stroke="#0a0a0a" stroke-width="0.3">150</text>
<line x1="65.5" y1="912.5" x2="72" y2="912.5" stroke="#000" stroke-width="1.8" stroke-linecap="butt"/>
<text x="64" y="916.7" font-size="12" font-weight="bold" text-anchor="end" fill="#0a0a0a"  stroke="#0a0a0a" stroke-width="0.3">200</text>
<line x1="65.5" y1="878.25" x2="72" y2="878.25" stroke="#000" stroke-width="1.8" stroke-linecap="butt"/>
<text x="64" y="882.45" font-size="12" font-weight="bold" text-anchor="end" fill="#0a0a0a"  stroke="#0a0a0a" stroke-width="0.3">250</text>
<line x1="90" y1="1049.4" x2="90" y2="1054.4" stroke="#000" stroke-width="1.8" stroke-linecap="butt"/>
<text x="94.6" y="1068.4" font-size="13" font-weight="bold" text-anchor="end" fill="#0a0a0a" transform="rotate(-45 94.6 1068.4)" stroke="#0a0a0a" stroke-width="0.3">Nor</text>
<line x1="127" y1="1049.4" x2="127" y2="1054.4" stroke="#000" stroke-width="1.8" stroke-linecap="butt"/>
<text x="131.6" y="1068.4" font-size="13" font-weight="bold" text-anchor="end" fill="#0a0a0a" transform="rotate(-45 131.6 1068.4)" stroke="#0a0a0a" stroke-width="0.3">Con</text>
<line x1="163.5" y1="1049.4" x2="163.5" y2="1054.4" stroke="#000" stroke-width="1.8" stroke-linecap="butt"/>
<text x="168.1" y="1068.4" font-size="13" font-weight="bold" text-anchor="end" fill="#0a0a0a" transform="rotate(-45 168.1 1068.4)" stroke="#0a0a0a" stroke-width="0.3">Metro</text>
<line x1="200.25" y1="1049.4" x2="200.25" y2="1054.4" stroke="#000" stroke-width="1.8" stroke-linecap="butt"/>
<text x="204.85" y="1068.4" font-size="13" font-weight="bold" text-anchor="end" fill="#0a0a0a" transform="rotate(-45 204.85 1068.4)" stroke="#0a0a0a" stroke-width="0.3">15009 L</text>
<line x1="236.75" y1="1049.4" x2="236.75" y2="1054.4" stroke="#000" stroke-width="1.8" stroke-linecap="butt"/>
<text x="241.35" y="1068.4" font-size="13" font-weight="bold" text-anchor="end" fill="#0a0a0a" transform="rotate(-45 241.35 1068.4)" stroke="#0a0a0a" stroke-width="0.3">15009 H</text>
<line x1="273.5" y1="1049.4" x2="273.5" y2="1054.4" stroke="#000" stroke-width="1.8" stroke-linecap="butt"/>
<text x="278.1" y="1068.4" font-size="13" font-weight="bold" text-anchor="end" fill="#0a0a0a" transform="rotate(-45 278.1 1068.4)" stroke="#0a0a0a" stroke-width="0.3">7801 L</text>
<line x1="310.75" y1="1049.4" x2="310.75" y2="1054.4" stroke="#000" stroke-width="1.8" stroke-linecap="butt"/>
<text x="315.35" y="1068.4" font-size="13" font-weight="bold" text-anchor="end" fill="#0a0a0a" transform="rotate(-45 315.35 1068.4)" stroke="#0a0a0a" stroke-width="0.3">7801 H</text>
<text x="37.3" y="963" font-size="11.4" font-weight="bold" text-anchor="middle" fill="#0a0a0a" transform="rotate(-90 37.3 963)" textLength="77.5" lengthAdjust="spacingAndGlyphs" stroke="#0a0a0a" stroke-width="0.3">TNF-α (pg/mL)</text>
<text x="127" y="887.16" font-size="13.5" font-weight="normal" text-anchor="middle" fill="#111" textLength="20.5" lengthAdjust="spacingAndGlyphs" stroke="#111" stroke-width="0.25">###</text>
<text x="163.5" y="984.32" font-size="16" font-weight="normal" text-anchor="middle" fill="#111"  stroke="#111" stroke-width="0.25">***</text>
<text x="200.5" y="956.57" font-size="16" font-weight="normal" text-anchor="middle" fill="#111"  stroke="#111" stroke-width="0.25">*</text>
<text x="237" y="971.57" font-size="16" font-weight="normal" text-anchor="middle" fill="#111"  stroke="#111" stroke-width="0.25">*</text>
<text x="273.5" y="974.07" font-size="16" font-weight="normal" text-anchor="middle" fill="#111"  stroke="#111" stroke-width="0.25">**</text>
<text x="310.5" y="983.32" font-size="16" font-weight="normal" text-anchor="middle" fill="#111"  stroke="#111" stroke-width="0.25">***</text>
<line x1="442.62" y1="971.5" x2="442.62" y2="982" stroke="#000" stroke-width="2.6" stroke-linecap="butt"/>
<line x1="436.48" y1="971.5" x2="448.77" y2="971.5" stroke="#000" stroke-width="2.6" stroke-linecap="round"/>
<rect x="430.55" y="982" width="24.15" height="67.65" fill="#fff"/>
<path d="M430.55,1049.65V982H454.7V1049.65" fill="none" stroke="#000" stroke-width="2.6" stroke-linejoin="round"/>
<line x1="479.88" y1="893.25" x2="479.88" y2="907.5" stroke="#000" stroke-width="2.6" stroke-linecap="butt"/>
<line x1="473.73" y1="893.25" x2="486.02" y2="893.25" stroke="#000" stroke-width="2.6" stroke-linecap="round"/>
<rect x="468.05" y="908.8" width="23.65" height="140.85" fill="#000"/>
<path d="M468.05,1049.65V908.8H491.7V1049.65" fill="none" stroke="#000" stroke-width="2.6" stroke-linejoin="round"/>
<line x1="516.38" y1="957" x2="516.38" y2="970" stroke="#000" stroke-width="2.6" stroke-linecap="butt"/>
<line x1="510.23" y1="957" x2="522.52" y2="957" stroke="#000" stroke-width="2.6" stroke-linecap="round"/>
<rect x="505.05" y="970" width="22.65" height="79.65" fill="#858585"/>
<path d="M505.05,1049.65V970H527.7V1049.65" fill="none" stroke="#000" stroke-width="2.6" stroke-linejoin="round"/>
<line x1="552.88" y1="926.25" x2="552.88" y2="937.5" stroke="#000" stroke-width="2.6" stroke-linecap="butt"/>
<line x1="546.73" y1="926.25" x2="559.02" y2="926.25" stroke="#000" stroke-width="2.6" stroke-linecap="round"/>
<rect x="541.05" y="937.5" width="23.65" height="112.15" fill="#fff"/>
<path d="M541.05,1049.65V937.5H564.7V1049.65" fill="none" stroke="#000" stroke-width="2.6" stroke-linejoin="round"/>
<line x1="589.62" y1="940" x2="589.62" y2="948.75" stroke="#000" stroke-width="2.6" stroke-linecap="butt"/>
<line x1="583.48" y1="940" x2="595.77" y2="940" stroke="#000" stroke-width="2.6" stroke-linecap="round"/>
<rect x="577.8" y="948.75" width="23.65" height="100.9" fill="#fff"/>
<path d="M577.8,1049.65V948.75H601.45V1049.65" fill="none" stroke="#000" stroke-width="2.6" stroke-linejoin="round"/>
<line x1="626.5" y1="951.75" x2="626.5" y2="959.5" stroke="#000" stroke-width="2.6" stroke-linecap="butt"/>
<line x1="620.35" y1="951.75" x2="632.65" y2="951.75" stroke="#000" stroke-width="2.6" stroke-linecap="round"/>
<rect x="614.8" y="959.5" width="23.4" height="90.15" fill="#fff"/>
<path d="M614.8,1049.65V959.5H638.2V1049.65" fill="none" stroke="#000" stroke-width="2.6" stroke-linejoin="round"/>
<line x1="663.38" y1="962" x2="663.38" y2="971.25" stroke="#000" stroke-width="2.6" stroke-linecap="butt"/>
<line x1="657.23" y1="962" x2="669.52" y2="962" stroke="#000" stroke-width="2.6" stroke-linecap="round"/>
<rect x="651.55" y="971.25" width="23.65" height="78.4" fill="#fff"/>
<path d="M651.55,1049.65V971.25H675.2V1049.65" fill="none" stroke="#000" stroke-width="2.6" stroke-linejoin="round"/>
<line x1="425" y1="877.1" x2="425" y2="1049.65" stroke="#000" stroke-width="1.8" stroke-linecap="butt"/>
<line x1="424.1" y1="1048.75" x2="683.25" y2="1048.75" stroke="#000" stroke-width="1.8" stroke-linecap="butt"/>
<line x1="418.5" y1="1048.75" x2="425" y2="1048.75" stroke="#000" stroke-width="1.8" stroke-linecap="butt"/>
<text x="417" y="1052.95" font-size="12" font-weight="bold" text-anchor="end" fill="#0a0a0a"  stroke="#0a0a0a" stroke-width="0.3">0</text>
<line x1="418.5" y1="1014.75" x2="425" y2="1014.75" stroke="#000" stroke-width="1.8" stroke-linecap="butt"/>
<text x="417" y="1018.95" font-size="12" font-weight="bold" text-anchor="end" fill="#0a0a0a"  stroke="#0a0a0a" stroke-width="0.3">100</text>
<line x1="418.5" y1="980.5" x2="425" y2="980.5" stroke="#000" stroke-width="1.8" stroke-linecap="butt"/>
<text x="417" y="984.7" font-size="12" font-weight="bold" text-anchor="end" fill="#0a0a0a"  stroke="#0a0a0a" stroke-width="0.3">200</text>
<line x1="418.5" y1="946.25" x2="425" y2="946.25" stroke="#000" stroke-width="1.8" stroke-linecap="butt"/>
<text x="417" y="950.45" font-size="12" font-weight="bold" text-anchor="end" fill="#0a0a0a"  stroke="#0a0a0a" stroke-width="0.3">300</text>
<line x1="418.5" y1="912" x2="425" y2="912" stroke="#000" stroke-width="1.8" stroke-linecap="butt"/>
<text x="417" y="916.2" font-size="12" font-weight="bold" text-anchor="end" fill="#0a0a0a"  stroke="#0a0a0a" stroke-width="0.3">400</text>
<line x1="418.5" y1="878" x2="425" y2="878" stroke="#000" stroke-width="1.8" stroke-linecap="butt"/>
<text x="417" y="882.2" font-size="12" font-weight="bold" text-anchor="end" fill="#0a0a0a"  stroke="#0a0a0a" stroke-width="0.3">500</text>
<line x1="442.6" y1="1048.75" x2="442.6" y2="1053.75" stroke="#000" stroke-width="1.8" stroke-linecap="butt"/>
<text x="447.2" y="1067.75" font-size="13" font-weight="bold" text-anchor="end" fill="#0a0a0a" transform="rotate(-45 447.2 1067.75)" stroke="#0a0a0a" stroke-width="0.3">Nor</text>
<line x1="480" y1="1048.75" x2="480" y2="1053.75" stroke="#000" stroke-width="1.8" stroke-linecap="butt"/>
<text x="484.6" y="1067.75" font-size="13" font-weight="bold" text-anchor="end" fill="#0a0a0a" transform="rotate(-45 484.6 1067.75)" stroke="#0a0a0a" stroke-width="0.3">Con</text>
<line x1="516.4" y1="1048.75" x2="516.4" y2="1053.75" stroke="#000" stroke-width="1.8" stroke-linecap="butt"/>
<text x="521" y="1067.75" font-size="13" font-weight="bold" text-anchor="end" fill="#0a0a0a" transform="rotate(-45 521 1067.75)" stroke="#0a0a0a" stroke-width="0.3">Metro</text>
<line x1="552.9" y1="1048.75" x2="552.9" y2="1053.75" stroke="#000" stroke-width="1.8" stroke-linecap="butt"/>
<text x="557.5" y="1067.75" font-size="13" font-weight="bold" text-anchor="end" fill="#0a0a0a" transform="rotate(-45 557.5 1067.75)" stroke="#0a0a0a" stroke-width="0.3">15009 L</text>
<line x1="589.6" y1="1048.75" x2="589.6" y2="1053.75" stroke="#000" stroke-width="1.8" stroke-linecap="butt"/>
<text x="594.2" y="1067.75" font-size="13" font-weight="bold" text-anchor="end" fill="#0a0a0a" transform="rotate(-45 594.2 1067.75)" stroke="#0a0a0a" stroke-width="0.3">15009 H</text>
<line x1="626.5" y1="1048.75" x2="626.5" y2="1053.75" stroke="#000" stroke-width="1.8" stroke-linecap="butt"/>
<text x="631.1" y="1067.75" font-size="13" font-weight="bold" text-anchor="end" fill="#0a0a0a" transform="rotate(-45 631.1 1067.75)" stroke="#0a0a0a" stroke-width="0.3">7801 L</text>
<line x1="663.4" y1="1048.75" x2="663.4" y2="1053.75" stroke="#000" stroke-width="1.8" stroke-linecap="butt"/>
<text x="668" y="1067.75" font-size="13" font-weight="bold" text-anchor="end" fill="#0a0a0a" transform="rotate(-45 668 1067.75)" stroke="#0a0a0a" stroke-width="0.3">7801 H</text>
<text x="389.6" y="963" font-size="11.4" font-weight="bold" text-anchor="middle" fill="#0a0a0a" transform="rotate(-90 389.6 963)" textLength="72" lengthAdjust="spacingAndGlyphs" stroke="#0a0a0a" stroke-width="0.3">IL-1β (pg/mL)</text>
<text x="480" y="890.41" font-size="13.5" font-weight="normal" text-anchor="middle" fill="#111" textLength="13.7" lengthAdjust="spacingAndGlyphs" stroke="#111" stroke-width="0.25">##</text>
<text x="516.4" y="959.57" font-size="16" font-weight="normal" text-anchor="middle" fill="#111"  stroke="#111" stroke-width="0.25">**</text>
<text x="626.5" y="954.57" font-size="16" font-weight="normal" text-anchor="middle" fill="#111"  stroke="#111" stroke-width="0.25">*</text>
<text x="663.25" y="964.57" font-size="16" font-weight="normal" text-anchor="middle" fill="#111"  stroke="#111" stroke-width="0.25">*</text>
<line x1="88.75" y1="1218.75" x2="88.75" y2="1223.25" stroke="#000" stroke-width="2.6" stroke-linecap="butt"/>
<line x1="82.6" y1="1218.75" x2="94.9" y2="1218.75" stroke="#000" stroke-width="2.6" stroke-linecap="round"/>
<rect x="76.8" y="1223.25" width="23.9" height="84.15" fill="#fff"/>
<path d="M76.8,1307.4V1223.25H100.7V1307.4" fill="none" stroke="#000" stroke-width="2.6" stroke-linejoin="round"/>
<line x1="125.62" y1="1148.75" x2="125.62" y2="1160.75" stroke="#000" stroke-width="2.6" stroke-linecap="butt"/>
<line x1="119.47" y1="1148.75" x2="131.78" y2="1148.75" stroke="#000" stroke-width="2.6" stroke-linecap="round"/>
<rect x="113.8" y="1162.05" width="23.65" height="145.35" fill="#000"/>
<path d="M113.8,1307.4V1162.05H137.45V1307.4" fill="none" stroke="#000" stroke-width="2.6" stroke-linejoin="round"/>
<line x1="162.38" y1="1203" x2="162.38" y2="1213.25" stroke="#000" stroke-width="2.6" stroke-linecap="butt"/>
<line x1="156.22" y1="1203" x2="168.53" y2="1203" stroke="#000" stroke-width="2.6" stroke-linecap="round"/>
<rect x="150.8" y="1213.25" width="23.15" height="94.15" fill="#858585"/>
<path d="M150.8,1307.4V1213.25H173.95V1307.4" fill="none" stroke="#000" stroke-width="2.6" stroke-linejoin="round"/>
<line x1="199.12" y1="1167.5" x2="199.12" y2="1178.75" stroke="#000" stroke-width="2.6" stroke-linecap="butt"/>
<line x1="192.97" y1="1167.5" x2="205.28" y2="1167.5" stroke="#000" stroke-width="2.6" stroke-linecap="round"/>
<rect x="187.3" y="1178.75" width="23.65" height="128.65" fill="#fff"/>
<path d="M187.3,1307.4V1178.75H210.95V1307.4" fill="none" stroke="#000" stroke-width="2.6" stroke-linejoin="round"/>
<line x1="235.88" y1="1183.75" x2="235.88" y2="1198.75" stroke="#000" stroke-width="2.6" stroke-linecap="butt"/>
<line x1="229.72" y1="1183.75" x2="242.03" y2="1183.75" stroke="#000" stroke-width="2.6" stroke-linecap="round"/>
<rect x="224.05" y="1198.75" width="23.65" height="108.65" fill="#fff"/>
<path d="M224.05,1307.4V1198.75H247.7V1307.4" fill="none" stroke="#000" stroke-width="2.6" stroke-linejoin="round"/>
<line x1="272.62" y1="1185" x2="272.62" y2="1194.25" stroke="#000" stroke-width="2.6" stroke-linecap="butt"/>
<line x1="266.48" y1="1185" x2="278.77" y2="1185" stroke="#000" stroke-width="2.6" stroke-linecap="round"/>
<rect x="260.8" y="1194.25" width="23.65" height="113.15" fill="#fff"/>
<path d="M260.8,1307.4V1194.25H284.45V1307.4" fill="none" stroke="#000" stroke-width="2.6" stroke-linejoin="round"/>
<line x1="309.62" y1="1201.25" x2="309.62" y2="1212.5" stroke="#000" stroke-width="2.6" stroke-linecap="butt"/>
<line x1="303.48" y1="1201.25" x2="315.77" y2="1201.25" stroke="#000" stroke-width="2.6" stroke-linecap="round"/>
<rect x="297.8" y="1212.5" width="23.65" height="94.9" fill="#fff"/>
<path d="M297.8,1307.4V1212.5H321.45V1307.4" fill="none" stroke="#000" stroke-width="2.6" stroke-linejoin="round"/>
<line x1="71.25" y1="1134.6" x2="71.25" y2="1307.4" stroke="#000" stroke-width="1.8" stroke-linecap="butt"/>
<line x1="70.35" y1="1306.5" x2="329" y2="1306.5" stroke="#000" stroke-width="1.8" stroke-linecap="butt"/>
<line x1="64.75" y1="1306.5" x2="71.25" y2="1306.5" stroke="#000" stroke-width="1.8" stroke-linecap="butt"/>
<text x="63.25" y="1310.7" font-size="12" font-weight="bold" text-anchor="end" fill="#0a0a0a"  stroke="#0a0a0a" stroke-width="0.3">0</text>
<line x1="64.75" y1="1249.5" x2="71.25" y2="1249.5" stroke="#000" stroke-width="1.8" stroke-linecap="butt"/>
<text x="63.25" y="1253.7" font-size="12" font-weight="bold" text-anchor="end" fill="#0a0a0a"  stroke="#0a0a0a" stroke-width="0.3">50</text>
<line x1="64.75" y1="1192.5" x2="71.25" y2="1192.5" stroke="#000" stroke-width="1.8" stroke-linecap="butt"/>
<text x="63.25" y="1196.7" font-size="12" font-weight="bold" text-anchor="end" fill="#0a0a0a"  stroke="#0a0a0a" stroke-width="0.3">100</text>
<line x1="64.75" y1="1135.5" x2="71.25" y2="1135.5" stroke="#000" stroke-width="1.8" stroke-linecap="butt"/>
<text x="63.25" y="1139.7" font-size="12" font-weight="bold" text-anchor="end" fill="#0a0a0a"  stroke="#0a0a0a" stroke-width="0.3">150</text>
<line x1="88.75" y1="1306.5" x2="88.75" y2="1311.5" stroke="#000" stroke-width="1.8" stroke-linecap="butt"/>
<text x="93.35" y="1325.5" font-size="13" font-weight="bold" text-anchor="end" fill="#0a0a0a" transform="rotate(-45 93.35 1325.5)" stroke="#0a0a0a" stroke-width="0.3">Nor</text>
<line x1="125.6" y1="1306.5" x2="125.6" y2="1311.5" stroke="#000" stroke-width="1.8" stroke-linecap="butt"/>
<text x="130.2" y="1325.5" font-size="13" font-weight="bold" text-anchor="end" fill="#0a0a0a" transform="rotate(-45 130.2 1325.5)" stroke="#0a0a0a" stroke-width="0.3">Con</text>
<line x1="162.4" y1="1306.5" x2="162.4" y2="1311.5" stroke="#000" stroke-width="1.8" stroke-linecap="butt"/>
<text x="167" y="1325.5" font-size="13" font-weight="bold" text-anchor="end" fill="#0a0a0a" transform="rotate(-45 167 1325.5)" stroke="#0a0a0a" stroke-width="0.3">Metro</text>
<line x1="199.1" y1="1306.5" x2="199.1" y2="1311.5" stroke="#000" stroke-width="1.8" stroke-linecap="butt"/>
<text x="203.7" y="1325.5" font-size="13" font-weight="bold" text-anchor="end" fill="#0a0a0a" transform="rotate(-45 203.7 1325.5)" stroke="#0a0a0a" stroke-width="0.3">15009 L</text>
<line x1="235.9" y1="1306.5" x2="235.9" y2="1311.5" stroke="#000" stroke-width="1.8" stroke-linecap="butt"/>
<text x="240.5" y="1325.5" font-size="13" font-weight="bold" text-anchor="end" fill="#0a0a0a" transform="rotate(-45 240.5 1325.5)" stroke="#0a0a0a" stroke-width="0.3">15009 H</text>
<line x1="272.6" y1="1306.5" x2="272.6" y2="1311.5" stroke="#000" stroke-width="1.8" stroke-linecap="butt"/>
<text x="277.2" y="1325.5" font-size="13" font-weight="bold" text-anchor="end" fill="#0a0a0a" transform="rotate(-45 277.2 1325.5)" stroke="#0a0a0a" stroke-width="0.3">7801 L</text>
<line x1="309.6" y1="1306.5" x2="309.6" y2="1311.5" stroke="#000" stroke-width="1.8" stroke-linecap="butt"/>
<text x="314.2" y="1325.5" font-size="13" font-weight="bold" text-anchor="end" fill="#0a0a0a" transform="rotate(-45 314.2 1325.5)" stroke="#0a0a0a" stroke-width="0.3">7801 H</text>
<text x="35.5" y="1221" font-size="12" font-weight="bold" text-anchor="middle" fill="#0a0a0a" transform="rotate(-90 35.5 1221)" textLength="68" lengthAdjust="spacingAndGlyphs" stroke="#0a0a0a" stroke-width="0.3">IL-6 (pg/mL)</text>
<text x="125.75" y="1145.16" font-size="13.5" font-weight="normal" text-anchor="middle" fill="#111" textLength="13.7" lengthAdjust="spacingAndGlyphs" stroke="#111" stroke-width="0.25">##</text>
<text x="162.5" y="1205.82" font-size="16" font-weight="normal" text-anchor="middle" fill="#111"  stroke="#111" stroke-width="0.25">*</text>
<line x1="441.38" y1="1182.5" x2="441.38" y2="1191.75" stroke="#000" stroke-width="2.6" stroke-linecap="butt"/>
<line x1="435.23" y1="1182.5" x2="447.52" y2="1182.5" stroke="#000" stroke-width="2.6" stroke-linecap="round"/>
<rect x="429.3" y="1191.75" width="24.15" height="115.65" fill="#fff"/>
<path d="M429.3,1307.4V1191.75H453.45V1307.4" fill="none" stroke="#000" stroke-width="2.6" stroke-linejoin="round"/>
<line x1="478.25" y1="1263.75" x2="478.25" y2="1273" stroke="#000" stroke-width="2.6" stroke-linecap="butt"/>
<line x1="472.1" y1="1263.75" x2="484.4" y2="1263.75" stroke="#000" stroke-width="2.6" stroke-linecap="round"/>
<rect x="466.05" y="1274.3" width="24.4" height="33.1" fill="#000"/>
<path d="M466.05,1307.4V1274.3H490.45V1307.4" fill="none" stroke="#000" stroke-width="2.6" stroke-linejoin="round"/>
<line x1="515" y1="1217" x2="515" y2="1230" stroke="#000" stroke-width="2.6" stroke-linecap="butt"/>
<line x1="508.85" y1="1217" x2="521.15" y2="1217" stroke="#000" stroke-width="2.6" stroke-linecap="round"/>
<rect x="503.55" y="1230" width="22.9" height="77.4" fill="#858585"/>
<path d="M503.55,1307.4V1230H526.45V1307.4" fill="none" stroke="#000" stroke-width="2.6" stroke-linejoin="round"/>
<line x1="551.5" y1="1231.75" x2="551.5" y2="1249.25" stroke="#000" stroke-width="2.6" stroke-linecap="butt"/>
<line x1="545.35" y1="1231.75" x2="557.65" y2="1231.75" stroke="#000" stroke-width="2.6" stroke-linecap="round"/>
<rect x="539.55" y="1249.25" width="23.9" height="58.15" fill="#fff"/>
<path d="M539.55,1307.4V1249.25H563.45V1307.4" fill="none" stroke="#000" stroke-width="2.6" stroke-linejoin="round"/>
<line x1="588.38" y1="1227.5" x2="588.38" y2="1238" stroke="#000" stroke-width="2.6" stroke-linecap="butt"/>
<line x1="582.23" y1="1227.5" x2="594.52" y2="1227.5" stroke="#000" stroke-width="2.6" stroke-linecap="round"/>
<rect x="576.55" y="1238" width="23.65" height="69.4" fill="#fff"/>
<path d="M576.55,1307.4V1238H600.2V1307.4" fill="none" stroke="#000" stroke-width="2.6" stroke-linejoin="round"/>
<line x1="625.25" y1="1206.75" x2="625.25" y2="1222" stroke="#000" stroke-width="2.6" stroke-linecap="butt"/>
<line x1="619.1" y1="1206.75" x2="631.4" y2="1206.75" stroke="#000" stroke-width="2.6" stroke-linecap="round"/>
<rect x="613.55" y="1222" width="23.4" height="85.4" fill="#fff"/>
<path d="M613.55,1307.4V1222H636.95V1307.4" fill="none" stroke="#000" stroke-width="2.6" stroke-linejoin="round"/>
<line x1="662.12" y1="1192" x2="662.12" y2="1206.25" stroke="#000" stroke-width="2.6" stroke-linecap="butt"/>
<line x1="655.98" y1="1192" x2="668.27" y2="1192" stroke="#000" stroke-width="2.6" stroke-linecap="round"/>
<rect x="650.3" y="1206.25" width="23.65" height="101.15" fill="#fff"/>
<path d="M650.3,1307.4V1206.25H673.95V1307.4" fill="none" stroke="#000" stroke-width="2.6" stroke-linejoin="round"/>
<line x1="423.5" y1="1134.6" x2="423.5" y2="1307.4" stroke="#000" stroke-width="1.8" stroke-linecap="butt"/>
<line x1="422.6" y1="1306.5" x2="681" y2="1306.5" stroke="#000" stroke-width="1.8" stroke-linecap="butt"/>
<line x1="417" y1="1306.5" x2="423.5" y2="1306.5" stroke="#000" stroke-width="1.8" stroke-linecap="butt"/>
<text x="415.5" y="1310.7" font-size="12" font-weight="bold" text-anchor="end" fill="#0a0a0a"  stroke="#0a0a0a" stroke-width="0.3">0</text>
<line x1="417" y1="1249.5" x2="423.5" y2="1249.5" stroke="#000" stroke-width="1.8" stroke-linecap="butt"/>
<text x="415.5" y="1253.7" font-size="12" font-weight="bold" text-anchor="end" fill="#0a0a0a"  stroke="#0a0a0a" stroke-width="0.3">500</text>
<line x1="417" y1="1192.5" x2="423.5" y2="1192.5" stroke="#000" stroke-width="1.8" stroke-linecap="butt"/>
<text x="415.5" y="1196.7" font-size="12" font-weight="bold" text-anchor="end" fill="#0a0a0a"  stroke="#0a0a0a" stroke-width="0.3">1000</text>
<line x1="417" y1="1135.5" x2="423.5" y2="1135.5" stroke="#000" stroke-width="1.8" stroke-linecap="butt"/>
<text x="415.5" y="1139.7" font-size="12" font-weight="bold" text-anchor="end" fill="#0a0a0a"  stroke="#0a0a0a" stroke-width="0.3">1500</text>
<line x1="441.4" y1="1306.5" x2="441.4" y2="1311.5" stroke="#000" stroke-width="1.8" stroke-linecap="butt"/>
<text x="446" y="1325.5" font-size="13" font-weight="bold" text-anchor="end" fill="#0a0a0a" transform="rotate(-45 446 1325.5)" stroke="#0a0a0a" stroke-width="0.3">Nor</text>
<line x1="478.25" y1="1306.5" x2="478.25" y2="1311.5" stroke="#000" stroke-width="1.8" stroke-linecap="butt"/>
<text x="482.85" y="1325.5" font-size="13" font-weight="bold" text-anchor="end" fill="#0a0a0a" transform="rotate(-45 482.85 1325.5)" stroke="#0a0a0a" stroke-width="0.3">Con</text>
<line x1="515" y1="1306.5" x2="515" y2="1311.5" stroke="#000" stroke-width="1.8" stroke-linecap="butt"/>
<text x="519.6" y="1325.5" font-size="13" font-weight="bold" text-anchor="end" fill="#0a0a0a" transform="rotate(-45 519.6 1325.5)" stroke="#0a0a0a" stroke-width="0.3">Metro</text>
<line x1="551.5" y1="1306.5" x2="551.5" y2="1311.5" stroke="#000" stroke-width="1.8" stroke-linecap="butt"/>
<text x="556.1" y="1325.5" font-size="13" font-weight="bold" text-anchor="end" fill="#0a0a0a" transform="rotate(-45 556.1 1325.5)" stroke="#0a0a0a" stroke-width="0.3">15009 L</text>
<line x1="588.4" y1="1306.5" x2="588.4" y2="1311.5" stroke="#000" stroke-width="1.8" stroke-linecap="butt"/>
<text x="593" y="1325.5" font-size="13" font-weight="bold" text-anchor="end" fill="#0a0a0a" transform="rotate(-45 593 1325.5)" stroke="#0a0a0a" stroke-width="0.3">15009 H</text>
<line x1="625.25" y1="1306.5" x2="625.25" y2="1311.5" stroke="#000" stroke-width="1.8" stroke-linecap="butt"/>
<text x="629.85" y="1325.5" font-size="13" font-weight="bold" text-anchor="end" fill="#0a0a0a" transform="rotate(-45 629.85 1325.5)" stroke="#0a0a0a" stroke-width="0.3">7801 L</text>
<line x1="662.1" y1="1306.5" x2="662.1" y2="1311.5" stroke="#000" stroke-width="1.8" stroke-linecap="butt"/>
<text x="666.7" y="1325.5" font-size="13" font-weight="bold" text-anchor="end" fill="#0a0a0a" transform="rotate(-45 666.7 1325.5)" stroke="#0a0a0a" stroke-width="0.3">7801 H</text>
<text x="382" y="1220.5" font-size="12.5" font-weight="bold" text-anchor="middle" fill="#0a0a0a" transform="rotate(-90 382 1220.5)" textLength="78" lengthAdjust="spacingAndGlyphs" stroke="#0a0a0a" stroke-width="0.3">IL-10 (pg/mL)</text>
<text x="480" y="1260.91" font-size="13.5" font-weight="normal" text-anchor="middle" fill="#111" textLength="13.7" lengthAdjust="spacingAndGlyphs" stroke="#111" stroke-width="0.25">##</text>
<text x="662" y="1193.82" font-size="16" font-weight="normal" text-anchor="middle" fill="#111"  stroke="#111" stroke-width="0.25">*</text>
<defs>
<filter id="spk" x="0" y="0" width="100%" height="100%">
<feTurbulence type="fractalNoise" baseFrequency="0.05 0.14" numOctaves="2" seed="11" result="lo"/>
<feColorMatrix in="lo" type="matrix" values="0 0 0 0 0.985  0 0 0 0 0.955  0 0 0 0 0.985  0 0 0 2.8 -1.42" result="w"/>
<feComposite in="w" in2="SourceGraphic" operator="in" result="ww"/>
<feTurbulence type="fractalNoise" baseFrequency="0.55" numOctaves="2" seed="7" result="n"/>
<feColorMatrix in="n" type="matrix" values="0 0 0 0 0.50  0 0 0 0 0.42  0 0 0 0 0.74  0 0 0 7 -3.85" result="d"/>
<feComposite in="d" in2="SourceGraphic" operator="in" result="dd"/>
<feMerge><feMergeNode in="SourceGraphic"/><feMergeNode in="ww"/><feMergeNode in="dd"/></feMerge>
</filter>
<filter id="spk2" x="0" y="0" width="100%" height="100%">
<feTurbulence type="fractalNoise" baseFrequency="0.7" numOctaves="2" seed="3" result="n"/>
<feColorMatrix in="n" type="matrix" values="0 0 0 0 0.42  0 0 0 0 0.26  0 0 0 0 0.66  0 0 0 2.2 -1.05" result="d"/>
<feComposite in="d" in2="SourceGraphic" operator="in" result="dd"/>
<feMerge><feMergeNode in="SourceGraphic"/><feMergeNode in="dd"/></feMerge>
</filter>
<filter id="soft" x="-5%" y="-5%" width="110%" height="110%"><feGaussianBlur stdDeviation="0.45"/></filter>
<filter id="b2" x="-10%" y="-50%" width="120%" height="200%"><feGaussianBlur stdDeviation="1.6"/></filter>
</defs>
<clipPath id="c1"><rect x="116" y="295.5" width="137.4" height="121.8"/></clipPath>
<rect x="116" y="295.5" width="137.4" height="121.8" fill="#f7f6f8"/>
<g clip-path="url(#c1)"><g filter="url(#soft)">
<path d="M116,361C117.5,360.92 122,360.58 125,360.5C128,360.42 131.58,360.92 134,360.5C136.42,360.08 138.05,359.25 139.5,358C140.95,356.75 141.62,353.75 142.7,353C143.78,352.25 144.95,352.67 146,353.5C147.05,354.33 148,357.08 149,358C150,358.92 151.08,359.67 152,359C152.92,358.33 153.67,355.67 154.5,354C155.33,352.33 155.25,349.92 157,349C158.75,348.08 162.5,348.42 165,348.5C167.5,348.58 169.83,349.08 172,349.5C174.17,349.92 176.33,350.25 178,351C179.67,351.75 180.67,353.25 182,354C183.33,354.75 184.67,355.67 186,355.5C187.33,355.33 188.67,353.75 190,353C191.33,352.25 192.33,351.42 194,351C195.67,350.58 197.67,350.42 200,350.5C202.33,350.58 205.83,351.08 208,351.5C210.17,351.92 211.67,352.08 213,353C214.33,353.92 214.83,355.5 216,357C217.17,358.5 218.33,360.83 220,362C221.67,363.17 224.17,364 226,364C227.83,364 229.67,363.5 231,362C232.33,360.5 232.83,356.75 234,355C235.17,353.25 236.33,352 238,351.5C239.67,351 242.33,351.25 244,352C245.67,352.75 246.83,354.67 248,356C249.17,357.33 250,359.17 251,360C252,360.83 253.5,360.83 254,361L254,418C231,418 139,418 116,418Z" fill="#eed6ed" filter="url(#spk)"/>
<clipPath id="e1"><path d="M116,349.6C118.33,349.08 124.33,347.68 130,346.5C135.67,345.32 143.33,343.55 150,342.5C156.67,341.45 161.67,340.52 170,340.2C178.33,339.88 190.83,340.42 200,340.6C209.17,340.78 216,340.98 225,341.3C234,341.62 249.17,342.3 254,342.5L254,361C253.5,360.83 252,360.83 251,360C250,359.17 249.17,357.33 248,356C246.83,354.67 245.67,352.75 244,352C242.33,351.25 239.67,351 238,351.5C236.33,352 235.17,353.25 234,355C232.83,356.75 232.33,360.5 231,362C229.67,363.5 227.83,364 226,364C224.17,364 221.67,363.17 220,362C218.33,360.83 217.17,358.5 216,357C214.83,355.5 214.33,353.92 213,353C211.67,352.08 210.17,351.92 208,351.5C205.83,351.08 202.33,350.58 200,350.5C197.67,350.42 195.67,350.58 194,351C192.33,351.42 191.33,352.25 190,353C188.67,353.75 187.33,355.33 186,355.5C184.67,355.67 183.33,354.75 182,354C180.67,353.25 179.67,351.75 178,351C176.33,350.25 174.17,349.92 172,349.5C169.83,349.08 167.5,348.58 165,348.5C162.5,348.42 158.75,348.08 157,349C155.25,349.92 155.33,352.33 154.5,354C153.67,355.67 152.92,358.33 152,359C151.08,359.67 150,358.92 149,358C148,357.08 147.05,354.33 146,353.5C144.95,352.67 143.78,352.25 142.7,353C141.62,353.75 140.95,356.75 139.5,358C138.05,359.25 136.42,360.08 134,360.5C131.58,360.92 128,360.42 125,360.5C122,360.58 117.5,360.92 116,361Z"/></clipPath><g filter="url(#spk2)"><path d="M116,349.6C118.33,349.08 124.33,347.68 130,346.5C135.67,345.32 143.33,343.55 150,342.5C156.67,341.45 161.67,340.52 170,340.2C178.33,339.88 190.83,340.42 200,340.6C209.17,340.78 216,340.98 225,341.3C234,341.62 249.17,342.3 254,342.5L254,361C253.5,360.83 252,360.83 251,360C250,359.17 249.17,357.33 248,356C246.83,354.67 245.67,352.75 244,352C242.33,351.25 239.67,351 238,351.5C236.33,352 235.17,353.25 234,355C232.83,356.75 232.33,360.5 231,362C229.67,363.5 227.83,364 226,364C224.17,364 221.67,363.17 220,362C218.33,360.83 217.17,358.5 216,357C214.83,355.5 214.33,353.92 213,353C211.67,352.08 210.17,351.92 208,351.5C205.83,351.08 202.33,350.58 200,350.5C197.67,350.42 195.67,350.58 194,351C192.33,351.42 191.33,352.25 190,353C188.67,353.75 187.33,355.33 186,355.5C184.67,355.67 183.33,354.75 182,354C180.67,353.25 179.67,351.75 178,351C176.33,350.25 174.17,349.92 172,349.5C169.83,349.08 167.5,348.58 165,348.5C162.5,348.42 158.75,348.08 157,349C155.25,349.92 155.33,352.33 154.5,354C153.67,355.67 152.92,358.33 152,359C151.08,359.67 150,358.92 149,358C148,357.08 147.05,354.33 146,353.5C144.95,352.67 143.78,352.25 142.7,353C141.62,353.75 140.95,356.75 139.5,358C138.05,359.25 136.42,360.08 134,360.5C131.58,360.92 128,360.42 125,360.5C122,360.58 117.5,360.92 116,361Z" fill="#ad92d2"/><g clip-path="url(#e1)"><path d="M116,361C117.5,360.92 122,360.58 125,360.5C128,360.42 131.58,360.92 134,360.5C136.42,360.08 138.05,359.25 139.5,358C140.95,356.75 141.62,353.75 142.7,353C143.78,352.25 144.95,352.67 146,353.5C147.05,354.33 148,357.08 149,358C150,358.92 151.08,359.67 152,359C152.92,358.33 153.67,355.67 154.5,354C155.33,352.33 155.25,349.92 157,349C158.75,348.08 162.5,348.42 165,348.5C167.5,348.58 169.83,349.08 172,349.5C174.17,349.92 176.33,350.25 178,351C179.67,351.75 180.67,353.25 182,354C183.33,354.75 184.67,355.67 186,355.5C187.33,355.33 188.67,353.75 190,353C191.33,352.25 192.33,351.42 194,351C195.67,350.58 197.67,350.42 200,350.5C202.33,350.58 205.83,351.08 208,351.5C210.17,351.92 211.67,352.08 213,353C214.33,353.92 214.83,355.5 216,357C217.17,358.5 218.33,360.83 220,362C221.67,363.17 224.17,364 226,364C227.83,364 229.67,363.5 231,362C232.33,360.5 232.83,356.75 234,355C235.17,353.25 236.33,352 238,351.5C239.67,351 242.33,351.25 244,352C245.67,352.75 246.83,354.67 248,356C249.17,357.33 250,359.17 251,360C252,360.83 253.5,360.83 254,361" fill="none" stroke="#917ec8" stroke-width="5.5" filter="url(#b2)"/></g></g>
<path d="M116,349.6C118.33,349.08 124.33,347.68 130,346.5C135.67,345.32 143.33,343.55 150,342.5C156.67,341.45 161.67,340.52 170,340.2C178.33,339.88 190.83,340.42 200,340.6C209.17,340.78 216,340.98 225,341.3C234,341.62 249.17,342.3 254,342.5" fill="none" stroke="#c653b4" stroke-width="1.3" stroke-linecap="round" stroke-linejoin="round" />
<path d="M116,375.5 C135,373 160,372 185,373.5 C160,376 140,378 116,380Z" fill="#f7f2f7" opacity="0.7"/>
<path d="M116,393 C130,390 140,390 150,392 C140,395 128,398 116,399.5Z" fill="#f7f2f7" opacity="0.7"/>
<path d="M175,412 C190,402 215,393 240,392 C248,392 252,394 254,396 L254,402 C240,398 220,400 200,410 L192,417.3 L172,417.3Z" fill="#f7f2f7" />
<path d="M216,417.3 C222,407 238,407 243,417.3Z" fill="#9468c0" />
<line x1="120" y1="413.3" x2="137" y2="413.3" stroke="#333" stroke-width="0.8"/><text x="128.5" y="412.1" font-size="3.2" text-anchor="middle" fill="#333">100μm</text>
</g></g>
<text x="121.7" y="311.6" font-size="14.4" font-weight="normal" text-anchor="start" fill="#111" >Nor</text>
<clipPath id="c2"><rect x="267.1" y="294.9" width="136.9" height="121.9"/></clipPath>
<rect x="267.1" y="294.9" width="136.9" height="121.9" fill="#f7f6f8"/>
<g clip-path="url(#c2)"><g filter="url(#soft)">
<path d="M267,387.4C267.67,386.83 269.8,385.02 271,384C272.2,382.98 273.03,381.05 274.2,381.3C275.37,381.55 276.47,385.67 278,385.5C279.53,385.33 282.07,380.55 283.4,380.3C284.73,380.05 285.15,382.47 286,384C286.85,385.53 287.33,389.17 288.5,389.5C289.67,389.83 291.63,386.35 293,386C294.37,385.65 295.23,386.3 296.7,387.4C298.17,388.5 300.08,392.25 301.8,392.6C303.52,392.95 305.13,389.85 307,389.5C308.87,389.15 311.33,389.75 313,390.5C314.67,391.25 315.63,392.8 317,394C318.37,395.2 319.7,397.62 321.2,397.7C322.7,397.78 324.3,395.18 326,394.5C327.7,393.82 329.4,393.02 331.4,393.6C333.4,394.18 335.62,396.65 338,398C340.38,399.35 343.37,401.45 345.7,401.7C348.03,401.95 349.95,400 352,399.5C354.05,399 355.83,399.12 358,398.7C360.17,398.28 362.62,397.35 365,397C367.38,396.65 369.8,396.35 372.3,396.6C374.8,396.85 377.28,398.15 380,398.5C382.72,398.85 385.47,398.5 388.6,398.7C391.73,398.9 396.07,399.87 398.8,399.7C401.53,399.53 403.97,398.03 405,397.7L405,418C382,418 290,418 267,418Z" fill="#e6c6e6" filter="url(#spk)"/>
<path d="M267,360.9C268.88,361.4 274.72,363.73 278.3,363.9C281.88,364.07 285.1,361.05 288.5,361.9C291.9,362.75 293.95,367.13 298.7,369C303.45,370.87 311.22,371.57 317,373.1C322.78,374.63 328.27,377.17 333.4,378.2C338.53,379.23 343.7,378.43 347.8,379.3C351.9,380.17 354.6,382.22 358,383.4C361.4,384.58 364.47,385.9 368.2,386.4C371.93,386.9 376.32,386.73 380.4,386.4C384.48,386.07 388.6,385.25 392.7,384.4C396.8,383.55 402.95,381.82 405,381.3L405,397.7C403.97,398.03 401.53,399.53 398.8,399.7C396.07,399.87 391.73,398.9 388.6,398.7C385.47,398.5 382.72,398.85 380,398.5C377.28,398.15 374.8,396.85 372.3,396.6C369.8,396.35 367.38,396.65 365,397C362.62,397.35 360.17,398.28 358,398.7C355.83,399.12 354.05,399 352,399.5C349.95,400 348.03,401.95 345.7,401.7C343.37,401.45 340.38,399.35 338,398C335.62,396.65 333.4,394.18 331.4,393.6C329.4,393.02 327.7,393.82 326,394.5C324.3,395.18 322.7,397.78 321.2,397.7C319.7,397.62 318.37,395.2 317,394C315.63,392.8 314.67,391.25 313,390.5C311.33,389.75 308.87,389.15 307,389.5C305.13,389.85 303.52,392.95 301.8,392.6C300.08,392.25 298.17,388.5 296.7,387.4C295.23,386.3 294.37,385.65 293,386C291.63,386.35 289.67,389.83 288.5,389.5C287.33,389.17 286.85,385.53 286,384C285.15,382.47 284.73,380.05 283.4,380.3C282.07,380.55 279.53,385.33 278,385.5C276.47,385.67 275.37,381.55 274.2,381.3C273.03,381.05 272.2,382.98 271,384C269.8,385.02 267.67,386.83 267,387.4Z" fill="#b565c4" filter="url(#spk2)"/>
<path d="M267,373C270.5,373.17 282.5,372.83 288,374C293.5,375.17 294.67,378.17 300,380C305.33,381.83 313.33,383.17 320,385C326.67,386.83 333.67,389.75 340,391C346.33,392.25 352.67,392.17 358,392.5C363.33,392.83 364.17,393.42 372,393C379.83,392.58 399.5,390.5 405,390L405,397.7C403.97,398.03 401.53,399.53 398.8,399.7C396.07,399.87 391.73,398.9 388.6,398.7C385.47,398.5 382.72,398.85 380,398.5C377.28,398.15 374.8,396.85 372.3,396.6C369.8,396.35 367.38,396.65 365,397C362.62,397.35 360.17,398.28 358,398.7C355.83,399.12 354.05,399 352,399.5C349.95,400 348.03,401.95 345.7,401.7C343.37,401.45 340.38,399.35 338,398C335.62,396.65 333.4,394.18 331.4,393.6C329.4,393.02 327.7,393.82 326,394.5C324.3,395.18 322.7,397.78 321.2,397.7C319.7,397.62 318.37,395.2 317,394C315.63,392.8 314.67,391.25 313,390.5C311.33,389.75 308.87,389.15 307,389.5C305.13,389.85 303.52,392.95 301.8,392.6C300.08,392.25 298.17,388.5 296.7,387.4C295.23,386.3 294.37,385.65 293,386C291.63,386.35 289.67,389.83 288.5,389.5C287.33,389.17 286.85,385.53 286,384C285.15,382.47 284.73,380.05 283.4,380.3C282.07,380.55 279.53,385.33 278,385.5C276.47,385.67 275.37,381.55 274.2,381.3C273.03,381.05 272.2,382.98 271,384C269.8,385.02 267.67,386.83 267,387.4Z" fill="#8f5cba" opacity="0.6" filter="url(#b2)"/>
<path d="M267,338C269.83,337.17 278.72,331.83 284,333C289.28,334.17 293.2,341.83 298.7,345C304.2,348.17 308.15,350 317,352C325.85,354 339.87,355.33 351.8,357C363.73,358.67 379.73,360.67 388.6,362C397.47,363.33 402.27,364.5 405,365L405,376.2C402.95,376.72 396.8,378.45 392.7,379.3C388.6,380.15 384.48,380.97 380.4,381.3C376.32,381.63 371.93,381.82 368.2,381.3C364.47,380.78 361.4,379.57 358,378.2C354.6,376.83 351.9,374.28 347.8,373.1C343.7,371.92 338.53,372.45 333.4,371.1C328.27,369.75 322.78,366.87 317,365C311.22,363.13 303.45,361.95 298.7,359.9C293.95,357.85 291.9,353.57 288.5,352.7C285.1,351.83 281.88,354.87 278.3,354.7C274.72,354.53 268.88,352.2 267,351.7Z" fill="#fbf3f9" />
<path d="M267,351.7C268.88,352.2 274.72,354.53 278.3,354.7C281.88,354.87 285.1,351.83 288.5,352.7C291.9,353.57 293.95,357.85 298.7,359.9C303.45,361.95 311.22,363.13 317,365C322.78,366.87 328.27,369.75 333.4,371.1C338.53,372.45 343.7,371.92 347.8,373.1C351.9,374.28 354.6,376.83 358,378.2C361.4,379.57 364.47,380.78 368.2,381.3C371.93,381.82 376.32,381.63 380.4,381.3C384.48,380.97 388.6,380.15 392.7,379.3C396.8,378.45 402.95,376.72 405,376.2L405,381.3C402.95,381.82 396.8,383.55 392.7,384.4C388.6,385.25 384.48,386.07 380.4,386.4C376.32,386.73 371.93,386.9 368.2,386.4C364.47,385.9 361.4,384.58 358,383.4C354.6,382.22 351.9,380.17 347.8,379.3C343.7,378.43 338.53,379.23 333.4,378.2C328.27,377.17 322.78,374.63 317,373.1C311.22,371.57 303.45,370.87 298.7,369C293.95,367.13 291.9,362.75 288.5,361.9C285.1,361.05 281.88,364.07 278.3,363.9C274.72,363.73 268.88,361.4 267,360.9Z" fill="#e94bae" />
<path d="M284,330.5C284.23,330.15 284.73,328.48 285.4,328.4C286.07,328.32 287.15,329.18 288,330C288.85,330.82 288.72,331.55 290.5,333.3C292.28,335.05 295.97,338.45 298.7,340.5C301.43,342.55 303.85,344.58 306.9,345.6C309.95,346.62 312.58,346.27 317,346.6C321.42,346.93 327.6,347.1 333.4,347.6C339.2,348.1 345.32,349.08 351.8,349.6C358.28,350.12 367.43,350.05 372.3,350.7C377.17,351.35 378.28,352.32 381,353.5C383.72,354.68 386.48,356.47 388.6,357.8C390.72,359.13 392.85,360.88 393.7,361.5L393.7,363C392.85,363.08 390.72,363.75 388.6,363.5C386.48,363.25 383.72,362.1 381,361.5C378.28,360.9 377.17,360.35 372.3,359.9C367.43,359.45 358.28,359.15 351.8,358.8C345.32,358.45 339.2,358.65 333.4,357.8C327.6,356.95 321.42,354.83 317,353.7C312.58,352.57 309.95,352.2 306.9,351C303.85,349.8 301.43,348.5 298.7,346.5C295.97,344.5 292.62,341.08 290.5,339C288.38,336.92 287.08,335.25 286,334C284.92,332.75 284.33,331.92 284,331.5Z" fill="#ea55b2" />
<path d="M267,334C268,334.1 270.95,334.55 273,334.6C275.05,334.65 278.25,334.35 279.3,334.3" fill="none" stroke="#ea58b4" stroke-width="1.3" stroke-linecap="round" stroke-linejoin="round" />
<path d="M269,341C270.17,341.42 273.83,343.25 276,343.5C278.17,343.75 281,342.67 282,342.5" fill="none" stroke="#ee7cc4" stroke-width="0.8" stroke-linecap="round" stroke-linejoin="round" />
<path d="M270,347.5C271.67,347.75 276.67,349.08 280,349C283.33,348.92 288.33,347.33 290,347" fill="none" stroke="#ee7cc4" stroke-width="0.8" stroke-linecap="round" stroke-linejoin="round" />
<path d="M292,343C294,344.42 299.67,349.17 304,351.5C308.33,353.83 313,355.42 318,357C323,358.58 331.33,360.33 334,361" fill="none" stroke="#ec62b8" stroke-width="1.0" stroke-linecap="round" stroke-linejoin="round" />
<path d="M300,352C302.67,353.42 310,358.33 316,360.5C322,362.67 330,364.08 336,365C342,365.92 349.33,365.83 352,366" fill="none" stroke="#ec62b8" stroke-width="1.0" stroke-linecap="round" stroke-linejoin="round" />
<path d="M322,356.5C325,357.33 334,360.25 340,361.5C346,362.75 352.67,362.58 358,364C363.33,365.42 368.83,367.67 372,370C375.17,372.33 376.17,376.67 377,378" fill="none" stroke="#ea58b4" stroke-width="1.2" stroke-linecap="round" stroke-linejoin="round" />
<path d="M345,360.5C347.83,360.92 356.83,361.83 362,363C367.17,364.17 372.33,365.42 376,367.5C379.67,369.58 382.67,374.17 384,375.5" fill="none" stroke="#ea58b4" stroke-width="1.3" stroke-linecap="round" stroke-linejoin="round" />
<path d="M366,361.5C368.33,362.08 376,363.42 380,365C384,366.58 387.67,369 390,371C392.33,373 393.33,376 394,377" fill="none" stroke="#ea58b4" stroke-width="1.3" stroke-linecap="round" stroke-linejoin="round" />
<path d="M384,363.5C385.67,364.08 391.17,365.58 394,367C396.83,368.42 399.83,371.17 401,372" fill="none" stroke="#ea58b4" stroke-width="1.2" stroke-linecap="round" stroke-linejoin="round" />
<path d="M372,349.5C372.5,349.17 374.17,347.95 375,347.5C375.83,347.05 376.67,346.92 377,346.8" fill="none" stroke="#ea58b4" stroke-width="0.8" stroke-linecap="round" stroke-linejoin="round" />
<path d="M398.5,362 C400,357 402,354.5 405,352.5 L405,373 C402.5,371 400,367 398.5,362Z" fill="#ea55b2" />
<line x1="271" y1="412.8" x2="288" y2="412.8" stroke="#333" stroke-width="0.8"/><text x="279.5" y="411.6" font-size="3.2" text-anchor="middle" fill="#333">100μm</text>
</g></g>
<text x="274.4" y="311.8" font-size="14.4" font-weight="normal" text-anchor="start" fill="#111" >Con</text>
<clipPath id="c3"><rect x="418.8" y="295.6" width="136" height="121.7"/></clipPath>
<rect x="418.8" y="295.6" width="136" height="121.7" fill="#f7f6f8"/>
<g clip-path="url(#c3)"><g filter="url(#soft)">
<path d="M418.6,374C419.17,374.25 420.6,376.08 422,375.5C423.4,374.92 425.1,371.7 427,370.5C428.9,369.3 430.4,368.8 433.4,368.3C436.4,367.8 441.12,367.32 445,367.5C448.88,367.68 453.53,368.48 456.7,369.4C459.87,370.32 461.67,371.83 464,373C466.33,374.17 468.2,375.48 470.7,376.4C473.2,377.32 476.28,377.9 479,378.5C481.72,379.1 484,379.92 487,380C490,380.08 493.83,379.25 497,379C500.17,378.75 503,378.93 506,378.5C509,378.07 512,377.32 515,376.4C518,375.48 521.25,374.17 524,373C526.75,371.83 529,371.07 531.5,369.4C534,367.73 536.67,364.95 539,363C541.33,361.05 543.67,359.03 545.5,357.7C547.33,356.37 548.45,355.78 550,355C551.55,354.22 554,353.33 554.8,353L554.8,418C532.1,418 441.3,418 418.6,418Z" fill="#f0cfea" filter="url(#spk)"/>
<clipPath id="e2"><path d="M418.6,360C419.83,359.47 423.53,357.77 426,356.8C428.47,355.83 431.07,354.97 433.4,354.2C435.73,353.43 437.67,352.7 440,352.2C442.33,351.7 445.23,351.23 447.4,351.2C449.57,351.17 451.07,351.5 453,352C454.93,352.5 457,353.4 459,354.2C461,355 463.05,356 465,356.8C466.95,357.6 468.2,358.3 470.7,359C473.2,359.7 476.88,360.43 480,361C483.12,361.57 485.73,362.1 489.4,362.4C493.07,362.7 497.73,362.8 502,362.8C506.27,362.8 511.83,363.03 515,362.4C518.17,361.77 519.03,360.17 521,359C522.97,357.83 524.63,356.9 526.8,355.4C528.97,353.9 531.67,351.57 534,350C536.33,348.43 538.47,347.17 540.8,346C543.13,344.83 545.67,343.77 548,343C550.33,342.23 553.67,341.67 554.8,341.4L554.8,353C554,353.33 551.55,354.22 550,355C548.45,355.78 547.33,356.37 545.5,357.7C543.67,359.03 541.33,361.05 539,363C536.67,364.95 534,367.73 531.5,369.4C529,371.07 526.75,371.83 524,373C521.25,374.17 518,375.48 515,376.4C512,377.32 509,378.07 506,378.5C503,378.93 500.17,378.75 497,379C493.83,379.25 490,380.08 487,380C484,379.92 481.72,379.1 479,378.5C476.28,377.9 473.2,377.32 470.7,376.4C468.2,375.48 466.33,374.17 464,373C461.67,371.83 459.87,370.32 456.7,369.4C453.53,368.48 448.88,367.68 445,367.5C441.12,367.32 436.4,367.8 433.4,368.3C430.4,368.8 428.9,369.3 427,370.5C425.1,371.7 423.4,374.92 422,375.5C420.6,376.08 419.17,374.25 418.6,374Z"/></clipPath><g filter="url(#spk2)"><path d="M418.6,360C419.83,359.47 423.53,357.77 426,356.8C428.47,355.83 431.07,354.97 433.4,354.2C435.73,353.43 437.67,352.7 440,352.2C442.33,351.7 445.23,351.23 447.4,351.2C449.57,351.17 451.07,351.5 453,352C454.93,352.5 457,353.4 459,354.2C461,355 463.05,356 465,356.8C466.95,357.6 468.2,358.3 470.7,359C473.2,359.7 476.88,360.43 480,361C483.12,361.57 485.73,362.1 489.4,362.4C493.07,362.7 497.73,362.8 502,362.8C506.27,362.8 511.83,363.03 515,362.4C518.17,361.77 519.03,360.17 521,359C522.97,357.83 524.63,356.9 526.8,355.4C528.97,353.9 531.67,351.57 534,350C536.33,348.43 538.47,347.17 540.8,346C543.13,344.83 545.67,343.77 548,343C550.33,342.23 553.67,341.67 554.8,341.4L554.8,353C554,353.33 551.55,354.22 550,355C548.45,355.78 547.33,356.37 545.5,357.7C543.67,359.03 541.33,361.05 539,363C536.67,364.95 534,367.73 531.5,369.4C529,371.07 526.75,371.83 524,373C521.25,374.17 518,375.48 515,376.4C512,377.32 509,378.07 506,378.5C503,378.93 500.17,378.75 497,379C493.83,379.25 490,380.08 487,380C484,379.92 481.72,379.1 479,378.5C476.28,377.9 473.2,377.32 470.7,376.4C468.2,375.48 466.33,374.17 464,373C461.67,371.83 459.87,370.32 456.7,369.4C453.53,368.48 448.88,367.68 445,367.5C441.12,367.32 436.4,367.8 433.4,368.3C430.4,368.8 428.9,369.3 427,370.5C425.1,371.7 423.4,374.92 422,375.5C420.6,376.08 419.17,374.25 418.6,374Z" fill="#c08ed6"/><g clip-path="url(#e2)"><path d="M418.6,374C419.17,374.25 420.6,376.08 422,375.5C423.4,374.92 425.1,371.7 427,370.5C428.9,369.3 430.4,368.8 433.4,368.3C436.4,367.8 441.12,367.32 445,367.5C448.88,367.68 453.53,368.48 456.7,369.4C459.87,370.32 461.67,371.83 464,373C466.33,374.17 468.2,375.48 470.7,376.4C473.2,377.32 476.28,377.9 479,378.5C481.72,379.1 484,379.92 487,380C490,380.08 493.83,379.25 497,379C500.17,378.75 503,378.93 506,378.5C509,378.07 512,377.32 515,376.4C518,375.48 521.25,374.17 524,373C526.75,371.83 529,371.07 531.5,369.4C534,367.73 536.67,364.95 539,363C541.33,361.05 543.67,359.03 545.5,357.7C547.33,356.37 548.45,355.78 550,355C551.55,354.22 554,353.33 554.8,353" fill="none" stroke="#9a70c6" stroke-width="5.5" filter="url(#b2)"/></g></g>
<path d="M418.6,360C419.83,359.47 423.53,357.77 426,356.8C428.47,355.83 431.07,354.97 433.4,354.2C435.73,353.43 437.67,352.7 440,352.2C442.33,351.7 445.23,351.23 447.4,351.2C449.57,351.17 451.07,351.5 453,352C454.93,352.5 457,353.4 459,354.2C461,355 463.05,356 465,356.8C466.95,357.6 468.2,358.3 470.7,359C473.2,359.7 476.88,360.43 480,361C483.12,361.57 485.73,362.1 489.4,362.4C493.07,362.7 497.73,362.8 502,362.8C506.27,362.8 511.83,363.03 515,362.4C518.17,361.77 519.03,360.17 521,359C522.97,357.83 524.63,356.9 526.8,355.4C528.97,353.9 531.67,351.57 534,350C536.33,348.43 538.47,347.17 540.8,346C543.13,344.83 545.67,343.77 548,343C550.33,342.23 553.67,341.67 554.8,341.4" fill="none" stroke="#df4fb0" stroke-width="1.4" stroke-linecap="round" stroke-linejoin="round" />
<line x1="423" y1="413" x2="440" y2="413" stroke="#333" stroke-width="0.8"/><text x="431.5" y="411.8" font-size="3.2" text-anchor="middle" fill="#333">100μm</text>
</g></g>
<text x="424.3" y="312.4" font-size="14.4" font-weight="normal" text-anchor="start" fill="#111" >Metro</text>
<clipPath id="c4"><rect x="42" y="428.6" width="137.5" height="119.7"/></clipPath>
<rect x="42" y="428.6" width="137.5" height="119.7" fill="#f7f6f8"/>
<g clip-path="url(#c4)"><g filter="url(#soft)">
<path d="M41.7,499.7C44.42,499.78 52.17,500.2 58,500.2C63.83,500.2 71.37,499.73 76.7,499.7C82.03,499.67 86.12,499.78 90,500C93.88,500.22 96.67,500.25 100,501C103.33,501.75 107.17,503.5 110,504.5C112.83,505.5 114.77,506.42 117,507C119.23,507.58 120.9,507.87 123.4,508C125.9,508.13 129.4,507.97 132,507.8C134.6,507.63 137.42,508.05 139,507C140.58,505.95 140.17,502.33 141.5,501.5C142.83,500.67 145.08,501.42 147,502C148.92,502.58 150.7,504.2 153,505C155.3,505.8 158.63,506.13 160.8,506.8C162.97,507.47 164.13,508.72 166,509C167.87,509.28 169.75,508.87 172,508.5C174.25,508.13 178.25,507.08 179.5,506.8L179.5,534.8C177.92,534.92 173.25,535.72 170,535.5C166.75,535.28 163.87,534.2 160,533.5C156.13,532.8 150.97,531.47 146.8,531.3C142.63,531.13 138.9,532.12 135,532.5C131.1,532.88 127.23,533.55 123.4,533.6C119.57,533.65 115.9,533.18 112,532.8C108.1,532.42 103.67,531.85 100,531.3C96.33,530.75 93.67,530.63 90,529.5C86.33,528.37 81.38,525.58 78,524.5C74.62,523.42 72.03,522.92 69.7,523C67.37,523.08 65.95,524.2 64,525C62.05,525.8 60.33,527.38 58,527.8C55.67,528.22 52.72,527.9 50,527.5C47.28,527.1 43.08,525.75 41.7,525.4Z" fill="#e9c8e7" filter="url(#spk)"/>
<clipPath id="e3"><path d="M41.7,483.2C43.08,483.75 46.88,485.52 50,486.5C53.12,487.48 56.73,488.53 60.4,489.1C64.07,489.67 68.12,489.72 72,489.9C75.88,490.08 80.37,489.85 83.7,490.2C87.03,490.55 89.67,491.42 92,492C94.33,492.58 95.37,493.37 97.7,493.7C100.03,494.03 103.28,493.8 106,494C108.72,494.2 111.5,494.15 114,494.9C116.5,495.65 118.67,497.33 121,498.5C123.33,499.67 125.83,501.9 128,501.9C130.17,501.9 132,499.98 134,498.5C136,497.02 137.87,494.57 140,493C142.13,491.43 144.63,489.9 146.8,489.1C148.97,488.3 150.67,488.02 153,488.2C155.33,488.38 157.97,489.82 160.8,490.2C163.63,490.58 166.88,490.5 170,490.5C173.12,490.5 177.92,490.25 179.5,490.2L179.5,506.8C178.25,507.08 174.25,508.13 172,508.5C169.75,508.87 167.87,509.28 166,509C164.13,508.72 162.97,507.47 160.8,506.8C158.63,506.13 155.3,505.8 153,505C150.7,504.2 148.92,502.58 147,502C145.08,501.42 142.83,500.67 141.5,501.5C140.17,502.33 140.58,505.95 139,507C137.42,508.05 134.6,507.63 132,507.8C129.4,507.97 125.9,508.13 123.4,508C120.9,507.87 119.23,507.58 117,507C114.77,506.42 112.83,505.5 110,504.5C107.17,503.5 103.33,501.75 100,501C96.67,500.25 93.88,500.22 90,500C86.12,499.78 82.03,499.67 76.7,499.7C71.37,499.73 63.83,500.2 58,500.2C52.17,500.2 44.42,499.78 41.7,499.7Z"/></clipPath><g filter="url(#spk2)"><path d="M41.7,483.2C43.08,483.75 46.88,485.52 50,486.5C53.12,487.48 56.73,488.53 60.4,489.1C64.07,489.67 68.12,489.72 72,489.9C75.88,490.08 80.37,489.85 83.7,490.2C87.03,490.55 89.67,491.42 92,492C94.33,492.58 95.37,493.37 97.7,493.7C100.03,494.03 103.28,493.8 106,494C108.72,494.2 111.5,494.15 114,494.9C116.5,495.65 118.67,497.33 121,498.5C123.33,499.67 125.83,501.9 128,501.9C130.17,501.9 132,499.98 134,498.5C136,497.02 137.87,494.57 140,493C142.13,491.43 144.63,489.9 146.8,489.1C148.97,488.3 150.67,488.02 153,488.2C155.33,488.38 157.97,489.82 160.8,490.2C163.63,490.58 166.88,490.5 170,490.5C173.12,490.5 177.92,490.25 179.5,490.2L179.5,506.8C178.25,507.08 174.25,508.13 172,508.5C169.75,508.87 167.87,509.28 166,509C164.13,508.72 162.97,507.47 160.8,506.8C158.63,506.13 155.3,505.8 153,505C150.7,504.2 148.92,502.58 147,502C145.08,501.42 142.83,500.67 141.5,501.5C140.17,502.33 140.58,505.95 139,507C137.42,508.05 134.6,507.63 132,507.8C129.4,507.97 125.9,508.13 123.4,508C120.9,507.87 119.23,507.58 117,507C114.77,506.42 112.83,505.5 110,504.5C107.17,503.5 103.33,501.75 100,501C96.67,500.25 93.88,500.22 90,500C86.12,499.78 82.03,499.67 76.7,499.7C71.37,499.73 63.83,500.2 58,500.2C52.17,500.2 44.42,499.78 41.7,499.7Z" fill="#b66bc8"/><g clip-path="url(#e3)"><path d="M41.7,499.7C44.42,499.78 52.17,500.2 58,500.2C63.83,500.2 71.37,499.73 76.7,499.7C82.03,499.67 86.12,499.78 90,500C93.88,500.22 96.67,500.25 100,501C103.33,501.75 107.17,503.5 110,504.5C112.83,505.5 114.77,506.42 117,507C119.23,507.58 120.9,507.87 123.4,508C125.9,508.13 129.4,507.97 132,507.8C134.6,507.63 137.42,508.05 139,507C140.58,505.95 140.17,502.33 141.5,501.5C142.83,500.67 145.08,501.42 147,502C148.92,502.58 150.7,504.2 153,505C155.3,505.8 158.63,506.13 160.8,506.8C162.97,507.47 164.13,508.72 166,509C167.87,509.28 169.75,508.87 172,508.5C174.25,508.13 178.25,507.08 179.5,506.8" fill="none" stroke="#9456b8" stroke-width="7" filter="url(#b2)"/></g></g>
<path d="M41.7,478.7C43.08,479.25 46.88,481.02 50,482C53.12,482.98 56.73,484.03 60.4,484.6C64.07,485.17 68.12,485.22 72,485.4C75.88,485.58 80.37,485.35 83.7,485.7C87.03,486.05 89.67,486.92 92,487.5C94.33,488.08 95.37,488.87 97.7,489.2C100.03,489.53 103.28,489.3 106,489.5C108.72,489.7 111.5,489.65 114,490.4C116.5,491.15 118.67,492.83 121,494C123.33,495.17 125.83,497.4 128,497.4C130.17,497.4 132,495.48 134,494C136,492.52 137.87,490.07 140,488.5C142.13,486.93 144.63,485.18 146.8,484.6C148.97,484.02 150.67,484.6 153,485C155.33,485.4 157.97,486.62 160.8,487C163.63,487.38 166.88,487.3 170,487.3C173.12,487.3 177.92,487.05 179.5,487L179.5,490.2C177.92,490.25 173.12,490.5 170,490.5C166.88,490.5 163.63,490.58 160.8,490.2C157.97,489.82 155.33,488.38 153,488.2C150.67,488.02 148.97,488.3 146.8,489.1C144.63,489.9 142.13,491.43 140,493C137.87,494.57 136,497.02 134,498.5C132,499.98 130.17,501.9 128,501.9C125.83,501.9 123.33,499.67 121,498.5C118.67,497.33 116.5,495.65 114,494.9C111.5,494.15 108.72,494.2 106,494C103.28,493.8 100.03,494.03 97.7,493.7C95.37,493.37 94.33,492.58 92,492C89.67,491.42 87.03,490.55 83.7,490.2C80.37,489.85 75.88,490.08 72,489.9C68.12,489.72 64.07,489.67 60.4,489.1C56.73,488.53 53.12,487.48 50,486.5C46.88,485.52 43.08,483.75 41.7,483.2Z" fill="#e650ae" />
<path d="M104,535.5C106,535.8 112,537.12 116,537.3C120,537.48 124,536.95 128,536.6C132,536.25 138,535.43 140,535.2" fill="none" stroke="#e3c4e4" stroke-width="0.9" stroke-linecap="round" stroke-linejoin="round" />
<path d="M64,482C65,482.25 68,483.42 70,483.5C72,483.58 74.17,482.92 76,482.5C77.83,482.08 80.17,481.25 81,481" fill="none" stroke="#e58cc8" stroke-width="0.7" stroke-linecap="round" stroke-linejoin="round" />
<path d="M100,485.5C101,485.25 104,484 106,484C108,484 110.17,485.58 112,485.5C113.83,485.42 116.17,483.83 117,483.5" fill="none" stroke="#e58cc8" stroke-width="0.7" stroke-linecap="round" stroke-linejoin="round" />
<path d="M124,481C124.33,481.5 125.83,483 126,484C126.17,485 125.17,486.5 125,487" fill="none" stroke="#e58cc8" stroke-width="0.7" stroke-linecap="round" stroke-linejoin="round" />
<line x1="46.5" y1="545.5" x2="63.5" y2="545.5" stroke="#333" stroke-width="0.8"/><text x="55" y="544.3" font-size="3.2" text-anchor="middle" fill="#333">100μm</text>
</g></g>
<text x="49.6" y="445.2" font-size="14.4" font-weight="normal" text-anchor="start" fill="#111" >15009L</text>
<clipPath id="c5"><rect x="193.5" y="428.6" width="137.2" height="119.7"/></clipPath>
<rect x="193.5" y="428.6" width="137.2" height="119.7" fill="#f7f6f8"/>
<g clip-path="url(#c5)"><g filter="url(#soft)">
<path d="M193.3,516C193.75,515.67 194.72,515.17 196,514C197.28,512.83 199.5,510.42 201,509C202.5,507.58 203.43,506.45 205,505.5C206.57,504.55 207.23,503.72 210.4,503.3C213.57,502.88 219.33,503.38 224,503C228.67,502.62 234.73,501.08 238.4,501C242.07,500.92 243.07,502.83 246,502.5C248.93,502.17 253,499.42 256,499C259,498.58 261.1,500.27 264,500C266.9,499.73 270.9,497.57 273.4,497.4C275.9,497.23 277.23,497.82 279,499C280.77,500.18 282.2,503.4 284,504.5C285.8,505.6 287.97,504.68 289.8,505.6C291.63,506.52 293.05,508.83 295,510C296.95,511.17 299,512.1 301.5,512.6C304,513.1 307.58,512.35 310,513C312.42,513.65 314.33,516.17 316,516.5C317.67,516.83 318.33,515.83 320,515C321.67,514.17 324.22,512.5 326,511.5C327.78,510.5 329.92,509.42 330.7,509L330.7,539.5C329.25,539.25 325.45,538.25 322,538C318.55,537.75 314.2,538.33 310,538C305.8,537.67 300.97,536.5 296.8,536C292.63,535.5 288.9,535.2 285,535C281.1,534.8 277.23,534.55 273.4,534.8C269.57,535.05 265.9,535.72 262,536.5C258.1,537.28 252.67,538.25 250,539.5C247.33,540.75 249,543.42 246,544C243,544.58 237.17,542.83 232,543C226.83,543.17 220.33,544.12 215,545C209.67,545.88 203.62,548.05 200,548.3C196.38,548.55 194.42,546.8 193.3,546.5Z" fill="#e7c6e7" filter="url(#spk)"/>
<clipPath id="e4"><path d="M193.3,495C194.92,494.63 199.38,493.5 203,492.8C206.62,492.1 210.17,491.37 215,490.8C219.83,490.23 226.17,489.87 232,489.4C237.83,488.93 245,488.55 250,488C255,487.45 258.1,486.8 262,486.1C265.9,485.4 270.23,484.52 273.4,483.8C276.57,483.08 278.67,482.33 281,481.8C283.33,481.27 285.23,479.97 287.4,480.6C289.57,481.23 291.65,483.77 294,485.6C296.35,487.43 299.17,489.93 301.5,491.6C303.83,493.27 305.67,494.43 308,495.6C310.33,496.77 313.17,498.52 315.5,498.6C317.83,498.68 319.47,497.48 322,496.1C324.53,494.72 329.25,491.27 330.7,490.3L330.7,509C329.92,509.42 327.78,510.5 326,511.5C324.22,512.5 321.67,514.17 320,515C318.33,515.83 317.67,516.83 316,516.5C314.33,516.17 312.42,513.65 310,513C307.58,512.35 304,513.1 301.5,512.6C299,512.1 296.95,511.17 295,510C293.05,508.83 291.63,506.52 289.8,505.6C287.97,504.68 285.8,505.6 284,504.5C282.2,503.4 280.77,500.18 279,499C277.23,497.82 275.9,497.23 273.4,497.4C270.9,497.57 266.9,499.73 264,500C261.1,500.27 259,498.58 256,499C253,499.42 248.93,502.17 246,502.5C243.07,502.83 242.07,500.92 238.4,501C234.73,501.08 228.67,502.62 224,503C219.33,503.38 213.57,502.88 210.4,503.3C207.23,503.72 206.57,504.55 205,505.5C203.43,506.45 202.5,507.58 201,509C199.5,510.42 197.28,512.83 196,514C194.72,515.17 193.75,515.67 193.3,516Z"/></clipPath><g filter="url(#spk2)"><path d="M193.3,495C194.92,494.63 199.38,493.5 203,492.8C206.62,492.1 210.17,491.37 215,490.8C219.83,490.23 226.17,489.87 232,489.4C237.83,488.93 245,488.55 250,488C255,487.45 258.1,486.8 262,486.1C265.9,485.4 270.23,484.52 273.4,483.8C276.57,483.08 278.67,482.33 281,481.8C283.33,481.27 285.23,479.97 287.4,480.6C289.57,481.23 291.65,483.77 294,485.6C296.35,487.43 299.17,489.93 301.5,491.6C303.83,493.27 305.67,494.43 308,495.6C310.33,496.77 313.17,498.52 315.5,498.6C317.83,498.68 319.47,497.48 322,496.1C324.53,494.72 329.25,491.27 330.7,490.3L330.7,509C329.92,509.42 327.78,510.5 326,511.5C324.22,512.5 321.67,514.17 320,515C318.33,515.83 317.67,516.83 316,516.5C314.33,516.17 312.42,513.65 310,513C307.58,512.35 304,513.1 301.5,512.6C299,512.1 296.95,511.17 295,510C293.05,508.83 291.63,506.52 289.8,505.6C287.97,504.68 285.8,505.6 284,504.5C282.2,503.4 280.77,500.18 279,499C277.23,497.82 275.9,497.23 273.4,497.4C270.9,497.57 266.9,499.73 264,500C261.1,500.27 259,498.58 256,499C253,499.42 248.93,502.17 246,502.5C243.07,502.83 242.07,500.92 238.4,501C234.73,501.08 228.67,502.62 224,503C219.33,503.38 213.57,502.88 210.4,503.3C207.23,503.72 206.57,504.55 205,505.5C203.43,506.45 202.5,507.58 201,509C199.5,510.42 197.28,512.83 196,514C194.72,515.17 193.75,515.67 193.3,516Z" fill="#b36bc8"/><g clip-path="url(#e4)"><path d="M193.3,516C193.75,515.67 194.72,515.17 196,514C197.28,512.83 199.5,510.42 201,509C202.5,507.58 203.43,506.45 205,505.5C206.57,504.55 207.23,503.72 210.4,503.3C213.57,502.88 219.33,503.38 224,503C228.67,502.62 234.73,501.08 238.4,501C242.07,500.92 243.07,502.83 246,502.5C248.93,502.17 253,499.42 256,499C259,498.58 261.1,500.27 264,500C266.9,499.73 270.9,497.57 273.4,497.4C275.9,497.23 277.23,497.82 279,499C280.77,500.18 282.2,503.4 284,504.5C285.8,505.6 287.97,504.68 289.8,505.6C291.63,506.52 293.05,508.83 295,510C296.95,511.17 299,512.1 301.5,512.6C304,513.1 307.58,512.35 310,513C312.42,513.65 314.33,516.17 316,516.5C317.67,516.83 318.33,515.83 320,515C321.67,514.17 324.22,512.5 326,511.5C327.78,510.5 329.92,509.42 330.7,509" fill="none" stroke="#9558ba" stroke-width="7" filter="url(#b2)"/></g></g>
<path d="M193.3,490.4C194.92,490.03 199.38,488.9 203,488.2C206.62,487.5 210.17,486.77 215,486.2C219.83,485.63 226.17,485.27 232,484.8C237.83,484.33 245,483.95 250,483.4C255,482.85 258.1,482.2 262,481.5C265.9,480.8 270.23,479.92 273.4,479.2C276.57,478.48 278.67,477.73 281,477.2C283.33,476.67 285.23,475.37 287.4,476C289.57,476.63 291.65,479.17 294,481C296.35,482.83 299.17,485.33 301.5,487C303.83,488.67 305.67,489.83 308,491C310.33,492.17 313.17,493.92 315.5,494C317.83,494.08 319.47,492.88 322,491.5C324.53,490.12 329.25,486.67 330.7,485.7L330.7,490.3C329.25,491.27 324.53,494.72 322,496.1C319.47,497.48 317.83,498.68 315.5,498.6C313.17,498.52 310.33,496.77 308,495.6C305.67,494.43 303.83,493.27 301.5,491.6C299.17,489.93 296.35,487.43 294,485.6C291.65,483.77 289.57,481.23 287.4,480.6C285.23,479.97 283.33,481.27 281,481.8C278.67,482.33 276.57,483.08 273.4,483.8C270.23,484.52 265.9,485.4 262,486.1C258.1,486.8 255,487.45 250,488C245,488.55 237.83,488.93 232,489.4C226.17,489.87 219.83,490.23 215,490.8C210.17,491.37 206.62,492.1 203,492.8C199.38,493.5 194.92,494.63 193.3,495Z" fill="#e650ae" />
<line x1="198" y1="545.5" x2="215" y2="545.5" stroke="#333" stroke-width="0.8"/><text x="206.5" y="544.3" font-size="3.2" text-anchor="middle" fill="#333">100μm</text>
</g></g>
<text x="201" y="444.7" font-size="14.4" font-weight="normal" text-anchor="start" fill="#111" >15009H</text>
<clipPath id="c6"><rect x="344.5" y="428.6" width="136.9" height="120.2"/></clipPath>
<rect x="344.5" y="428.6" width="136.9" height="120.2" fill="#f7f6f8"/>
<g clip-path="url(#c6)"><g filter="url(#soft)">
<path d="M344,506.8C346.67,506.25 354.55,504.68 360,503.5C365.45,502.32 371.03,500.78 376.7,499.7C382.37,498.62 388.15,497.78 394,497C399.85,496.22 406.3,495.47 411.8,495C417.3,494.53 421.97,494.37 427,494.2C432.03,494.03 437.67,493.62 442,494C446.33,494.38 449.5,495.55 453,496.5C456.5,497.45 459.83,498.65 463,499.7C466.17,500.75 468.93,501.82 472,502.8C475.07,503.78 479.83,505.13 481.4,505.6L481.4,549C458.5,549 366.9,549 344,549Z" fill="#e9cfe9" filter="url(#spk)"/>
<clipPath id="e5"><path d="M344,497.6C346.67,497.23 354.55,496.2 360,495.4C365.45,494.6 371.03,493.73 376.7,492.8C382.37,491.87 388.15,490.77 394,489.8C399.85,488.83 406.3,487.67 411.8,487C417.3,486.33 421.97,486.07 427,485.8C432.03,485.53 437.67,485.23 442,485.4C446.33,485.57 449.5,486.15 453,486.8C456.5,487.45 459.83,488.4 463,489.3C466.17,490.2 468.93,491.22 472,492.2C475.07,493.18 479.83,494.7 481.4,495.2L481.4,505.6C479.83,505.13 475.07,503.78 472,502.8C468.93,501.82 466.17,500.75 463,499.7C459.83,498.65 456.5,497.45 453,496.5C449.5,495.55 446.33,494.38 442,494C437.67,493.62 432.03,494.03 427,494.2C421.97,494.37 417.3,494.53 411.8,495C406.3,495.47 399.85,496.22 394,497C388.15,497.78 382.37,498.62 376.7,499.7C371.03,500.78 365.45,502.32 360,503.5C354.55,504.68 346.67,506.25 344,506.8Z"/></clipPath><g filter="url(#spk2)"><path d="M344,497.6C346.67,497.23 354.55,496.2 360,495.4C365.45,494.6 371.03,493.73 376.7,492.8C382.37,491.87 388.15,490.77 394,489.8C399.85,488.83 406.3,487.67 411.8,487C417.3,486.33 421.97,486.07 427,485.8C432.03,485.53 437.67,485.23 442,485.4C446.33,485.57 449.5,486.15 453,486.8C456.5,487.45 459.83,488.4 463,489.3C466.17,490.2 468.93,491.22 472,492.2C475.07,493.18 479.83,494.7 481.4,495.2L481.4,505.6C479.83,505.13 475.07,503.78 472,502.8C468.93,501.82 466.17,500.75 463,499.7C459.83,498.65 456.5,497.45 453,496.5C449.5,495.55 446.33,494.38 442,494C437.67,493.62 432.03,494.03 427,494.2C421.97,494.37 417.3,494.53 411.8,495C406.3,495.47 399.85,496.22 394,497C388.15,497.78 382.37,498.62 376.7,499.7C371.03,500.78 365.45,502.32 360,503.5C354.55,504.68 346.67,506.25 344,506.8Z" fill="#b98bd6"/><g clip-path="url(#e5)"><path d="M344,506.8C346.67,506.25 354.55,504.68 360,503.5C365.45,502.32 371.03,500.78 376.7,499.7C382.37,498.62 388.15,497.78 394,497C399.85,496.22 406.3,495.47 411.8,495C417.3,494.53 421.97,494.37 427,494.2C432.03,494.03 437.67,493.62 442,494C446.33,494.38 449.5,495.55 453,496.5C456.5,497.45 459.83,498.65 463,499.7C466.17,500.75 468.93,501.82 472,502.8C475.07,503.78 479.83,505.13 481.4,505.6" fill="none" stroke="#9868c0" stroke-width="5" filter="url(#b2)"/></g></g>
<path d="M344,494C346.67,493.63 354.55,492.6 360,491.8C365.45,491 371.03,490.13 376.7,489.2C382.37,488.27 388.15,487.17 394,486.2C399.85,485.23 406.3,484.07 411.8,483.4C417.3,482.73 421.97,482.47 427,482.2C432.03,481.93 437.67,481.63 442,481.8C446.33,481.97 449.5,482.55 453,483.2C456.5,483.85 459.83,484.8 463,485.7C466.17,486.6 468.93,487.62 472,488.6C475.07,489.58 479.83,491.1 481.4,491.6L481.4,495.2C479.83,494.7 475.07,493.18 472,492.2C468.93,491.22 466.17,490.2 463,489.3C459.83,488.4 456.5,487.45 453,486.8C449.5,486.15 446.33,485.57 442,485.4C437.67,485.23 432.03,485.53 427,485.8C421.97,486.07 417.3,486.33 411.8,487C406.3,487.67 399.85,488.83 394,489.8C388.15,490.77 382.37,491.87 376.7,492.8C371.03,493.73 365.45,494.6 360,495.4C354.55,496.2 346.67,497.23 344,497.6Z" fill="#e650ae" />
<path d="M344,536.5 C352,533.5 362,531.5 369.7,531.3 C377,531.3 383,532 388.4,533.6 C396,536 402,538.5 408,541.5 C412,543.5 416,546 420,548.8 L399,548.8 C392,544 384,541.5 374,541 C364,540.8 353,542.5 344,545Z" fill="#f7f3f7" />
<path d="M344,547C346,546.53 351.67,544.82 356,544.2C360.33,543.58 365.33,543.17 370,543.3C374.67,543.43 380,544.08 384,545C388,545.92 392.33,548.17 394,548.8" fill="none" stroke="#e2c2e3" stroke-width="0.8" stroke-linecap="round" stroke-linejoin="round" />
<path d="M404,482C403.33,481.67 401.17,480.58 400,480C398.83,479.42 397.5,478.75 397,478.5" fill="none" stroke="#e58cc8" stroke-width="0.7" stroke-linecap="round" stroke-linejoin="round" />
<path d="M419,481.2C418.5,480.92 416.83,480.03 416,479.5C415.17,478.97 414.33,478.25 414,478" fill="none" stroke="#e58cc8" stroke-width="0.7" stroke-linecap="round" stroke-linejoin="round" />
<path d="M432,480.8C432.5,480.5 434.67,479.63 435,479C435.33,478.37 434.17,477.33 434,477" fill="none" stroke="#e58cc8" stroke-width="0.7" stroke-linecap="round" stroke-linejoin="round" />
<line x1="349" y1="546" x2="366" y2="546" stroke="#333" stroke-width="0.8"/><text x="357.5" y="544.8" font-size="3.2" text-anchor="middle" fill="#333">100μm</text>
</g></g>
<text x="351.2" y="446" font-size="14.4" font-weight="normal" text-anchor="start" fill="#111" >7801L</text>
<clipPath id="c7"><rect x="495.6" y="428.7" width="137.4" height="118.9"/></clipPath>
<rect x="495.6" y="428.7" width="137.4" height="118.9" fill="#f7f6f8"/>
<g clip-path="url(#c7)"><g filter="url(#soft)">
<path d="M495.2,492.7C497.17,492.8 502.92,493.3 507,493.3C511.08,493.3 515.87,493.5 519.7,492.7C523.53,491.9 526.5,489.85 530,488.5C533.5,487.15 536.37,485.48 540.7,484.6C545.03,483.72 550.55,483.47 556,483.2C561.45,482.93 568.9,482.7 573.4,483C577.9,483.3 579.9,484.17 583,485C586.1,485.83 589,487.33 592,488C595,488.67 597.87,488.8 601,489C604.13,489.2 607.3,489.33 610.8,489.2C614.3,489.07 618.3,488.57 622,488.2C625.7,487.83 631.17,487.2 633,487L633,548C610.03,548 518.17,548 495.2,548Z" fill="#f0d2ec" filter="url(#spk)"/>
<clipPath id="e6"><path d="M495.2,483.4C497.17,483.37 502.92,483.4 507,483.2C511.08,483 515.53,482.98 519.7,482.2C523.87,481.42 527.72,479.78 532,478.5C536.28,477.22 541.23,475.25 545.4,474.5C549.57,473.75 553.1,474 557,474C560.9,474 564.97,474.13 568.8,474.5C572.63,474.87 576.13,475.57 580,476.2C583.87,476.83 588.5,477.83 592,478.3C595.5,478.77 597.87,478.85 601,479C604.13,479.15 607.3,479.5 610.8,479.2C614.3,478.9 618.3,477.93 622,477.2C625.7,476.47 631.17,475.2 633,474.8L633,487C631.17,487.2 625.7,487.83 622,488.2C618.3,488.57 614.3,489.07 610.8,489.2C607.3,489.33 604.13,489.2 601,489C597.87,488.8 595,488.67 592,488C589,487.33 586.1,485.83 583,485C579.9,484.17 577.9,483.3 573.4,483C568.9,482.7 561.45,482.93 556,483.2C550.55,483.47 545.03,483.72 540.7,484.6C536.37,485.48 533.5,487.15 530,488.5C526.5,489.85 523.53,491.9 519.7,492.7C515.87,493.5 511.08,493.3 507,493.3C502.92,493.3 497.17,492.8 495.2,492.7Z"/></clipPath><g filter="url(#spk2)"><path d="M495.2,483.4C497.17,483.37 502.92,483.4 507,483.2C511.08,483 515.53,482.98 519.7,482.2C523.87,481.42 527.72,479.78 532,478.5C536.28,477.22 541.23,475.25 545.4,474.5C549.57,473.75 553.1,474 557,474C560.9,474 564.97,474.13 568.8,474.5C572.63,474.87 576.13,475.57 580,476.2C583.87,476.83 588.5,477.83 592,478.3C595.5,478.77 597.87,478.85 601,479C604.13,479.15 607.3,479.5 610.8,479.2C614.3,478.9 618.3,477.93 622,477.2C625.7,476.47 631.17,475.2 633,474.8L633,487C631.17,487.2 625.7,487.83 622,488.2C618.3,488.57 614.3,489.07 610.8,489.2C607.3,489.33 604.13,489.2 601,489C597.87,488.8 595,488.67 592,488C589,487.33 586.1,485.83 583,485C579.9,484.17 577.9,483.3 573.4,483C568.9,482.7 561.45,482.93 556,483.2C550.55,483.47 545.03,483.72 540.7,484.6C536.37,485.48 533.5,487.15 530,488.5C526.5,489.85 523.53,491.9 519.7,492.7C515.87,493.5 511.08,493.3 507,493.3C502.92,493.3 497.17,492.8 495.2,492.7Z" fill="#ab84d0"/><g clip-path="url(#e6)"><path d="M495.2,492.7C497.17,492.8 502.92,493.3 507,493.3C511.08,493.3 515.87,493.5 519.7,492.7C523.53,491.9 526.5,489.85 530,488.5C533.5,487.15 536.37,485.48 540.7,484.6C545.03,483.72 550.55,483.47 556,483.2C561.45,482.93 568.9,482.7 573.4,483C577.9,483.3 579.9,484.17 583,485C586.1,485.83 589,487.33 592,488C595,488.67 597.87,488.8 601,489C604.13,489.2 607.3,489.33 610.8,489.2C614.3,489.07 618.3,488.57 622,488.2C625.7,487.83 631.17,487.2 633,487" fill="none" stroke="#8f68c0" stroke-width="4.5" filter="url(#b2)"/></g></g>
<path d="M592,478.3C593.5,478.42 597.87,478.85 601,479C604.13,479.15 607.3,479.5 610.8,479.2C614.3,478.9 618.3,477.93 622,477.2C625.7,476.47 631.17,475.2 633,474.8" fill="none" stroke="#cf5bb8" stroke-width="1.0" stroke-linecap="round" stroke-linejoin="round" />
<line x1="500" y1="546" x2="517" y2="546" stroke="#333" stroke-width="0.8"/><text x="508.5" y="544.8" font-size="3.2" text-anchor="middle" fill="#333">100μm</text>
</g></g>
<text x="502.2" y="444.3" font-size="14.4" font-weight="normal" text-anchor="start" fill="#111" >7801H</text>
</svg>
</body></html>
